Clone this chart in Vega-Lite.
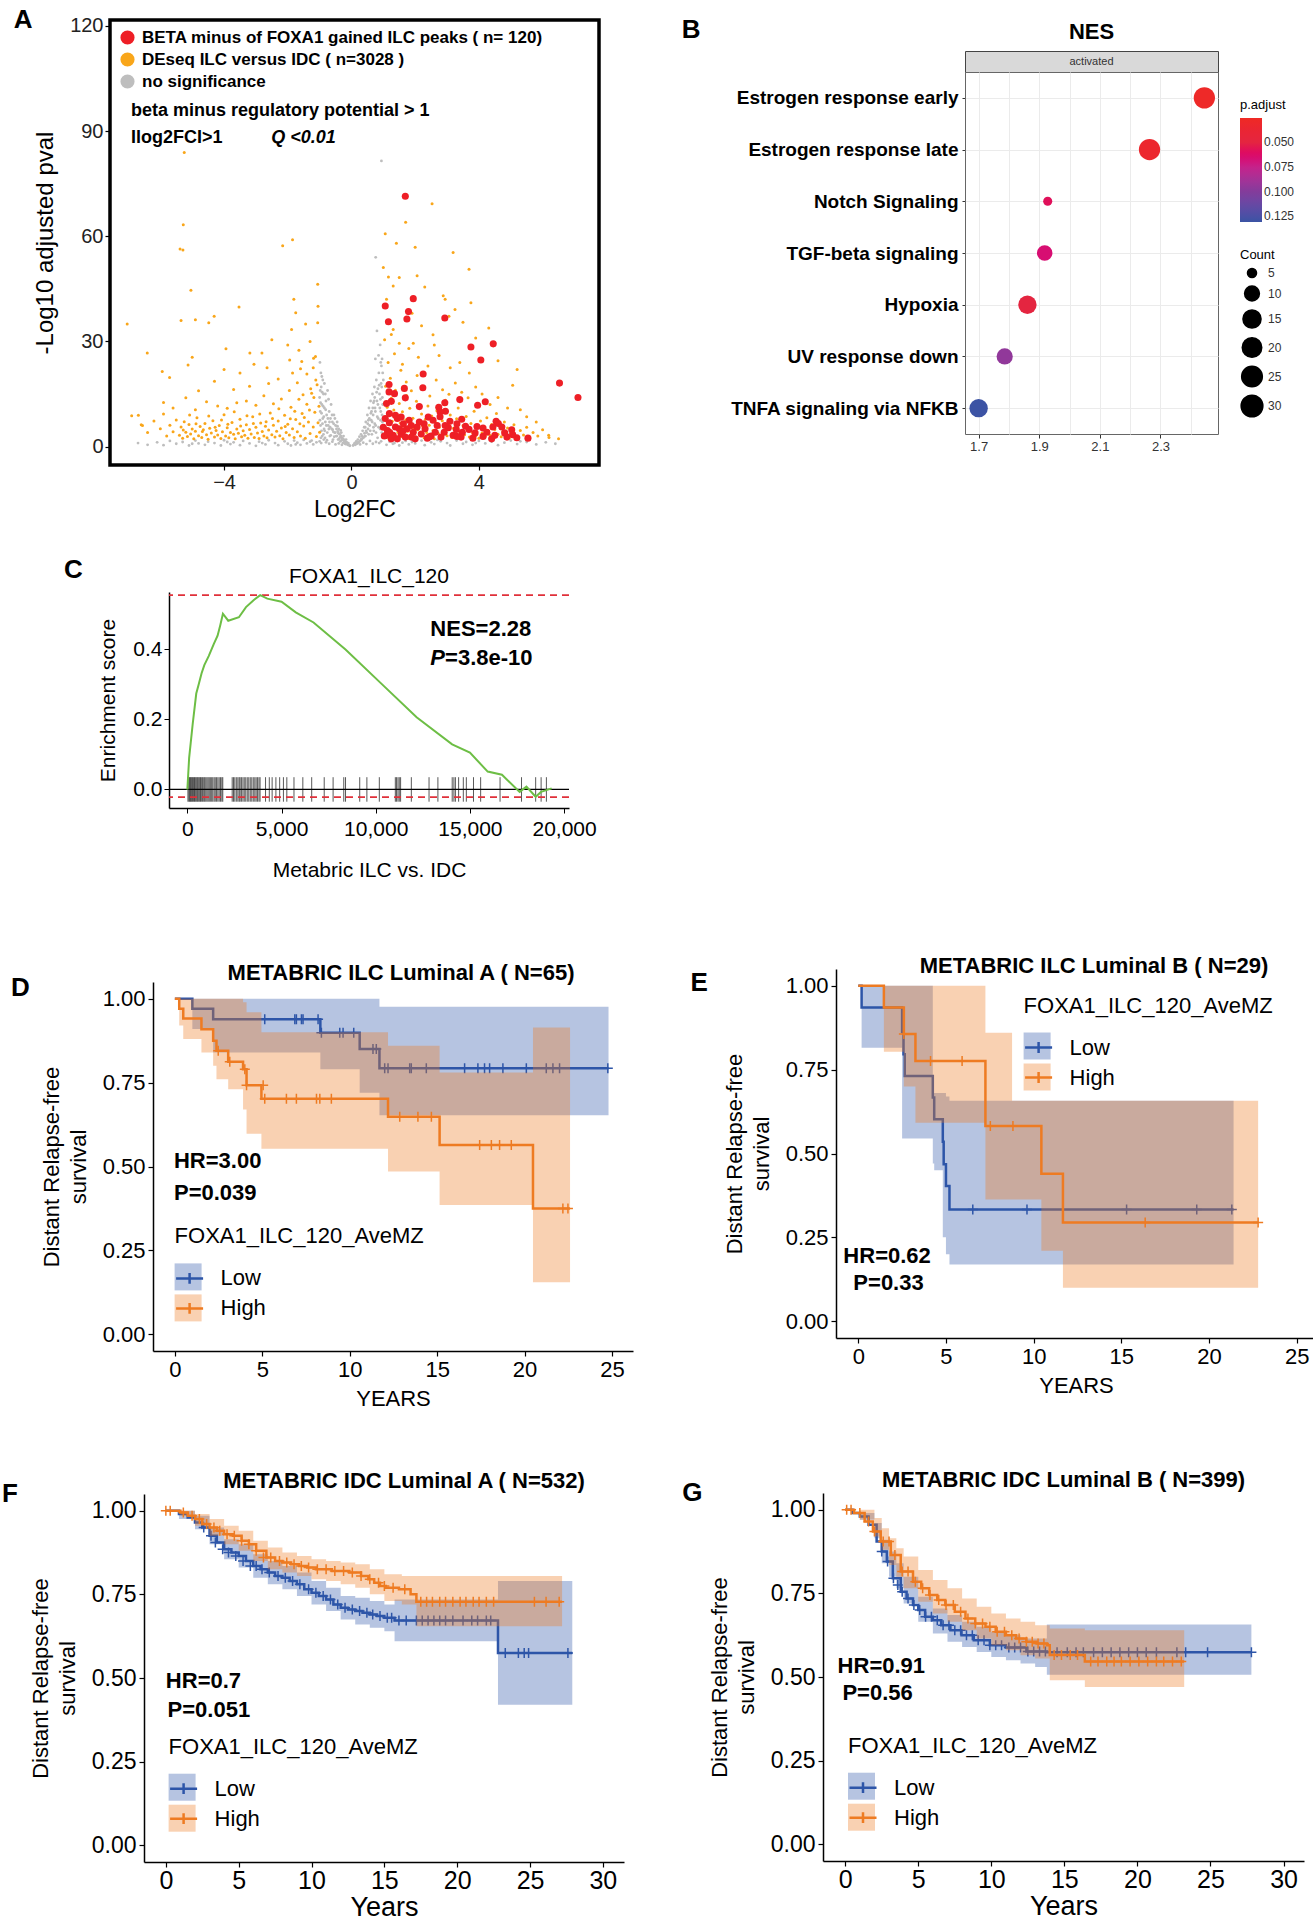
{
"$schema":"https://vega.github.io/schema/vega-lite/v6.json",
"padding":0,
"background":"white",
"config":{
 "view":{"stroke":null},
 "font":"Liberation Sans",
 "axis":{"labelColor":"#000","titleColor":"#000","domainColor":"#000","tickColor":"#000","grid":false,"titleFontWeight":"normal","labelFont":"Liberation Sans","titleFont":"Liberation Sans"},
 "legend":{"labelColor":"#000","titleColor":"#000","titleFontWeight":"normal","labelLimit":700,"titleLimit":700,"labelFont":"Liberation Sans","titleFont":"Liberation Sans"},
 "text":{"font":"Liberation Sans","color":"#000"}
},
"datasets":{
"volcano":[
{"x":-1.0,"y":14,"g":"n"},{"x":-0.98,"y":10,"g":"n"},{"x":-0.97,"y":6,"g":"n"},{"x":-0.95,"y":17,"g":"n"},{"x":-0.93,"y":12,"g":"n"},{"x":-0.92,"y":3,"g":"n"},{"x":-0.9,"y":8,"g":"n"},{"x":-0.88,"y":15,"g":"n"},{"x":-0.86,"y":5,"g":"n"},{"x":-0.85,"y":11,"g":"n"},{"x":-0.83,"y":2.5,"g":"n"},{"x":-0.82,"y":7,"g":"n"},{"x":-0.8,"y":13,"g":"n"},{"x":-0.78,"y":9,"g":"n"},{"x":-0.76,"y":4,"g":"n"},{"x":-0.75,"y":16,"g":"n"},{"x":-0.73,"y":6,"g":"n"},{"x":-0.7,"y":10,"g":"n"},{"x":-0.68,"y":3,"g":"n"},{"x":-0.66,"y":8,"g":"n"},{"x":-0.64,"y":12,"g":"n"},{"x":-0.62,"y":5,"g":"n"},{"x":-0.6,"y":7,"g":"n"},{"x":-0.58,"y":2,"g":"n"},{"x":-0.55,"y":9,"g":"n"},{"x":-0.53,"y":4,"g":"n"},{"x":-0.5,"y":6,"g":"n"},{"x":-0.48,"y":3,"g":"n"},{"x":-0.45,"y":7,"g":"n"},{"x":-0.42,"y":2,"g":"n"},{"x":-0.4,"y":5,"g":"n"},{"x":-0.37,"y":3.5,"g":"n"},{"x":-0.35,"y":1.5,"g":"n"},{"x":-0.32,"y":4,"g":"n"},{"x":-0.3,"y":2.5,"g":"n"},{"x":-0.27,"y":1,"g":"n"},{"x":-0.25,"y":3,"g":"n"},{"x":-0.22,"y":1.8,"g":"n"},{"x":-0.2,"y":0.8,"g":"n"},{"x":-0.17,"y":2,"g":"n"},{"x":-0.15,"y":1.2,"g":"n"},{"x":-0.12,"y":0.5,"g":"n"},{"x":-0.1,"y":1,"g":"n"},{"x":-0.07,"y":0.4,"g":"n"},{"x":-0.05,"y":0.2,"g":"n"},{"x":-0.9,"y":19,"g":"n"},{"x":-0.96,"y":21,"g":"n"},{"x":-0.85,"y":18,"g":"n"},{"x":-0.99,"y":24,"g":"n"},{"x":-1.0,"y":1.5,"g":"n"},{"x":-0.95,"y":1,"g":"n"},{"x":-0.8,"y":1.2,"g":"n"},{"x":-0.7,"y":0.8,"g":"n"},{"x":-0.6,"y":1.4,"g":"n"},{"x":-0.5,"y":0.6,"g":"n"},{"x":-0.4,"y":0.9,"g":"n"},{"x":-0.3,"y":0.5,"g":"n"},{"x":-0.94,"y":4.5,"g":"n"},{"x":-0.87,"y":2,"g":"n"},{"x":-0.77,"y":1.8,"g":"n"},{"x":-0.72,"y":13.5,"g":"n"},{"x":-0.67,"y":5.5,"g":"n"},{"x":-0.57,"y":4.2,"g":"n"},{"x":-0.52,"y":8,"g":"n"},{"x":-0.47,"y":5,"g":"n"},{"x":-0.43,"y":4.3,"g":"n"},{"x":-0.39,"y":2.2,"g":"n"},{"x":-0.33,"y":3,"g":"n"},{"x":-0.28,"y":2,"g":"n"},{"x":-0.23,"y":1.3,"g":"n"},{"x":-0.18,"y":0.7,"g":"n"},
{"x":-0.99,"y":7.5,"g":"n"},{"x":-0.97,"y":12.5,"g":"n"},{"x":-0.94,"y":9.5,"g":"n"},{"x":-0.91,"y":6.5,"g":"n"},{"x":-0.89,"y":11.5,"g":"n"},{"x":-0.87,"y":8.5,"g":"n"},{"x":-0.84,"y":4.5,"g":"n"},{"x":-0.81,"y":10.5,"g":"n"},{"x":-0.79,"y":6,"g":"n"},{"x":-0.74,"y":8,"g":"n"},{"x":-0.71,"y":5,"g":"n"},{"x":-0.69,"y":7,"g":"n"},{"x":-0.65,"y":3.2,"g":"n"},{"x":-0.61,"y":9,"g":"n"},{"x":-0.59,"y":4.8,"g":"n"},{"x":-0.56,"y":6.5,"g":"n"},{"x":-0.54,"y":2.8,"g":"n"},{"x":-0.51,"y":4,"g":"n"},{"x":-0.46,"y":3,"g":"n"},{"x":-0.44,"y":5.8,"g":"n"},{"x":-0.41,"y":3.8,"g":"n"},{"x":-0.36,"y":2.6,"g":"n"},{"x":-0.34,"y":4.6,"g":"n"},{"x":-0.31,"y":1.8,"g":"n"},{"x":-0.26,"y":2.2,"g":"n"},{"x":-0.21,"y":1.5,"g":"n"},{"x":-0.16,"y":1.1,"g":"n"},{"x":-0.13,"y":0.9,"g":"n"},{"x":-0.08,"y":0.5,"g":"n"},{"x":-0.98,"y":16,"g":"n"},{"x":-0.92,"y":15.5,"g":"n"},{"x":-0.96,"y":2.5,"g":"n"},{"x":-0.88,"y":3.5,"g":"n"},{"x":-0.82,"y":15,"g":"n"},{"x":-0.93,"y":20,"g":"n"},
{"x":0.05,"y":0.3,"g":"n"},{"x":0.08,"y":0.6,"g":"n"},{"x":0.1,"y":1,"g":"n"},{"x":0.12,"y":0.5,"g":"n"},{"x":0.15,"y":1.5,"g":"n"},{"x":0.18,"y":0.9,"g":"n"},{"x":0.2,"y":2,"g":"n"},{"x":0.22,"y":1.2,"g":"n"},{"x":0.25,"y":2.8,"g":"n"},{"x":0.28,"y":1.7,"g":"n"},{"x":0.3,"y":3.5,"g":"n"},{"x":0.32,"y":2,"g":"n"},{"x":0.35,"y":4.5,"g":"n"},{"x":0.38,"y":2.6,"g":"n"},{"x":0.4,"y":5.5,"g":"n"},{"x":0.42,"y":3,"g":"n"},{"x":0.45,"y":7,"g":"n"},{"x":0.48,"y":4,"g":"n"},{"x":0.5,"y":9,"g":"n"},{"x":0.52,"y":5,"g":"n"},{"x":0.55,"y":11,"g":"n"},{"x":0.57,"y":6,"g":"n"},{"x":0.6,"y":13,"g":"n"},{"x":0.62,"y":7.5,"g":"n"},{"x":0.64,"y":3.5,"g":"n"},{"x":0.66,"y":15,"g":"n"},{"x":0.68,"y":9,"g":"n"},{"x":0.7,"y":4.5,"g":"n"},{"x":0.72,"y":17,"g":"n"},{"x":0.74,"y":11,"g":"n"},{"x":0.76,"y":6,"g":"n"},{"x":0.78,"y":19,"g":"n"},{"x":0.8,"y":13,"g":"n"},{"x":0.82,"y":2.5,"g":"n"},{"x":0.84,"y":8,"g":"n"},{"x":0.86,"y":21,"g":"n"},{"x":0.88,"y":15,"g":"n"},{"x":0.9,"y":5,"g":"n"},{"x":0.92,"y":10,"g":"n"},{"x":0.94,"y":23,"g":"n"},{"x":0.95,"y":17,"g":"n"},{"x":0.97,"y":7,"g":"n"},{"x":0.98,"y":12,"g":"n"},{"x":1.0,"y":19,"g":"n"},{"x":0.99,"y":3,"g":"n"},{"x":0.93,"y":1.5,"g":"n"},{"x":0.87,"y":1,"g":"n"},{"x":0.77,"y":1.3,"g":"n"},{"x":0.67,"y":0.8,"g":"n"},{"x":0.58,"y":1.6,"g":"n"},{"x":0.47,"y":0.7,"g":"n"},{"x":0.37,"y":1.1,"g":"n"},{"x":0.27,"y":0.6,"g":"n"},{"x":0.85,"y":26,"g":"n"},{"x":0.9,"y":29,"g":"n"},{"x":0.75,"y":25,"g":"n"},{"x":0.94,"y":81.5,"g":"n"},{"x":0.76,"y":54,"g":"n"},{"x":0.8,"y":33,"g":"n"},{"x":0.63,"y":10,"g":"n"},{"x":0.69,"y":12.5,"g":"n"},{"x":0.73,"y":14,"g":"n"},{"x":0.53,"y":7.5,"g":"n"},{"x":0.43,"y":5.5,"g":"n"},{"x":0.33,"y":3,"g":"n"},{"x":0.83,"y":16.5,"g":"n"},{"x":0.91,"y":13.5,"g":"n"},{"x":0.96,"y":9,"g":"n"},
{"x":0.99,"y":8,"g":"n"},{"x":0.97,"y":14,"g":"n"},{"x":0.95,"y":4,"g":"n"},{"x":0.93,"y":18,"g":"n"},{"x":0.91,"y":7.5,"g":"n"},{"x":0.89,"y":11,"g":"n"},{"x":0.87,"y":17.5,"g":"n"},{"x":0.85,"y":5.5,"g":"n"},{"x":0.83,"y":12,"g":"n"},{"x":0.81,"y":8.5,"g":"n"},{"x":0.79,"y":15.5,"g":"n"},{"x":0.77,"y":4,"g":"n"},{"x":0.75,"y":10,"g":"n"},{"x":0.73,"y":6.5,"g":"n"},{"x":0.71,"y":13,"g":"n"},{"x":0.69,"y":5.5,"g":"n"},{"x":0.67,"y":11,"g":"n"},{"x":0.65,"y":7,"g":"n"},{"x":0.61,"y":9.5,"g":"n"},{"x":0.59,"y":4.5,"g":"n"},{"x":0.56,"y":8,"g":"n"},{"x":0.54,"y":3.5,"g":"n"},{"x":0.51,"y":6.5,"g":"n"},{"x":0.46,"y":4.5,"g":"n"},{"x":0.44,"y":3,"g":"n"},{"x":0.41,"y":3.8,"g":"n"},{"x":0.36,"y":2.5,"g":"n"},{"x":0.31,"y":2.2,"g":"n"},{"x":0.26,"y":1.5,"g":"n"},{"x":0.21,"y":1.2,"g":"n"},{"x":0.16,"y":0.8,"g":"n"},{"x":0.13,"y":1,"g":"n"},{"x":0.98,"y":21,"g":"n"},{"x":0.96,"y":25,"g":"n"},{"x":0.92,"y":24,"g":"n"},
{"x":-6.4,"y":0.5,"g":"n"},{"x":-6.1,"y":1.2,"g":"n"},{"x":-5.9,"y":0.4,"g":"n"},{"x":-5.7,"y":1.6,"g":"n"},{"x":-5.5,"y":0.8,"g":"n"},{"x":-5.3,"y":1.3,"g":"n"},{"x":-5.1,"y":0.3,"g":"n"},{"x":-4.9,"y":1.7,"g":"n"},{"x":-4.8,"y":0.9,"g":"n"},{"x":-4.6,"y":0.5,"g":"n"},{"x":-4.5,"y":1.4,"g":"n"},{"x":-4.3,"y":1.0,"g":"n"},{"x":-4.1,"y":0.3,"g":"n"},{"x":-4.0,"y":1.8,"g":"n"},{"x":-3.8,"y":0.7,"g":"n"},{"x":-3.7,"y":1.2,"g":"n"},{"x":-3.5,"y":0.4,"g":"n"},{"x":-3.4,"y":1.6,"g":"n"},{"x":-3.2,"y":0.9,"g":"n"},{"x":-3.0,"y":0.2,"g":"n"},{"x":-2.9,"y":1.4,"g":"n"},{"x":-2.7,"y":0.6,"g":"n"},{"x":-2.6,"y":1.8,"g":"n"},{"x":-2.4,"y":1.0,"g":"n"},{"x":-2.3,"y":0.4,"g":"n"},{"x":-2.1,"y":1.5,"g":"n"},{"x":-2.0,"y":0.8,"g":"n"},{"x":-1.9,"y":0.3,"g":"n"},{"x":-1.8,"y":1.7,"g":"n"},{"x":-1.7,"y":1.1,"g":"n"},{"x":-1.6,"y":0.5,"g":"n"},{"x":-1.5,"y":1.9,"g":"n"},{"x":-1.4,"y":0.9,"g":"n"},{"x":-1.3,"y":1.4,"g":"n"},{"x":-1.2,"y":0.6,"g":"n"},{"x":-1.1,"y":1.2,"g":"n"},{"x":-6.7,"y":1.0,"g":"n"},{"x":-5.0,"y":0.8,"g":"n"},{"x":-3.9,"y":1.3,"g":"n"},{"x":-2.8,"y":1.0,"g":"n"},{"x":-1.75,"y":0.6,"g":"n"},{"x":-1.25,"y":1.7,"g":"n"},
{"x":1.1,"y":0.5,"g":"n"},{"x":1.2,"y":1.4,"g":"n"},{"x":1.3,"y":0.8,"g":"n"},{"x":1.4,"y":1.8,"g":"n"},{"x":1.5,"y":0.3,"g":"n"},{"x":1.6,"y":1.1,"g":"n"},{"x":1.7,"y":1.6,"g":"n"},{"x":1.8,"y":0.6,"g":"n"},{"x":1.9,"y":1.3,"g":"n"},{"x":2.0,"y":0.9,"g":"n"},{"x":2.2,"y":1.7,"g":"n"},{"x":2.3,"y":0.4,"g":"n"},{"x":2.5,"y":1.2,"g":"n"},{"x":2.6,"y":0.7,"g":"n"},{"x":2.8,"y":1.5,"g":"n"},{"x":3.0,"y":1.0,"g":"n"},{"x":3.1,"y":0.3,"g":"n"},{"x":3.3,"y":1.7,"g":"n"},{"x":3.5,"y":0.8,"g":"n"},{"x":3.6,"y":1.3,"g":"n"},{"x":3.8,"y":0.5,"g":"n"},{"x":4.0,"y":1.6,"g":"n"},{"x":4.2,"y":0.9,"g":"n"},{"x":4.4,"y":1.4,"g":"n"},{"x":4.6,"y":0.4,"g":"n"},{"x":4.8,"y":1.1,"g":"n"},{"x":5.0,"y":1.7,"g":"n"},{"x":5.2,"y":0.7,"g":"n"},{"x":5.5,"y":1.3,"g":"n"},{"x":5.8,"y":0.6,"g":"n"},{"x":6.1,"y":1.2,"g":"n"},{"x":6.4,"y":0.8,"g":"n"},{"x":1.35,"y":1.0,"g":"n"},{"x":2.7,"y":1.9,"g":"n"},{"x":3.9,"y":1.0,"g":"n"},{"x":5.3,"y":1.5,"g":"n"},
{"x":-5.4,"y":3.2,"g":"o"},{"x":-5.35,"y":5.6,"g":"o"},{"x":-5.3,"y":2.4,"g":"o"},{"x":-5.25,"y":7.1,"g":"o"},{"x":-5.2,"y":4.1,"g":"o"},{"x":-5.15,"y":2.9,"g":"o"},{"x":-5.1,"y":6.3,"g":"o"},{"x":-5.05,"y":3.6,"g":"o"},{"x":-5.0,"y":5.0,"g":"o"},{"x":-4.95,"y":2.2,"g":"o"},{"x":-4.9,"y":4.4,"g":"o"},{"x":-4.85,"y":8.2,"g":"o"},{"x":-4.8,"y":3.1,"g":"o"},{"x":-4.75,"y":5.7,"g":"o"},{"x":-4.7,"y":2.6,"g":"o"},{"x":-4.65,"y":4.8,"g":"o"},{"x":-4.6,"y":6.6,"g":"o"},{"x":-4.55,"y":3.4,"g":"o"},{"x":-4.5,"y":2.1,"g":"o"},{"x":-4.45,"y":5.2,"g":"o"},{"x":-4.4,"y":3.9,"g":"o"},{"x":-4.35,"y":7.4,"g":"o"},{"x":-4.3,"y":2.7,"g":"o"},{"x":-4.25,"y":4.6,"g":"o"},{"x":-4.2,"y":3.3,"g":"o"},{"x":-4.15,"y":6.0,"g":"o"},{"x":-4.1,"y":2.3,"g":"o"},{"x":-4.05,"y":4.2,"g":"o"},{"x":-4.0,"y":9.1,"g":"o"},{"x":-3.95,"y":3.0,"g":"o"},{"x":-3.9,"y":5.4,"g":"o"},{"x":-3.85,"y":2.5,"g":"o"},{"x":-3.8,"y":4.0,"g":"o"},{"x":-3.75,"y":6.9,"g":"o"},{"x":-3.7,"y":3.5,"g":"o"},{"x":-3.65,"y":2.2,"g":"o"},{"x":-3.6,"y":5.0,"g":"o"},{"x":-3.55,"y":3.8,"g":"o"},{"x":-3.5,"y":7.8,"g":"o"},{"x":-3.45,"y":2.8,"g":"o"},{"x":-3.4,"y":4.5,"g":"o"},{"x":-3.35,"y":3.2,"g":"o"},{"x":-3.3,"y":6.2,"g":"o"},{"x":-3.25,"y":2.4,"g":"o"},{"x":-3.2,"y":4.9,"g":"o"},{"x":-3.15,"y":3.6,"g":"o"},{"x":-3.1,"y":8.5,"g":"o"},{"x":-3.05,"y":2.6,"g":"o"},{"x":-3.0,"y":5.5,"g":"o"},{"x":-2.95,"y":3.9,"g":"o"},{"x":-2.9,"y":2.3,"g":"o"},{"x":-2.85,"y":6.7,"g":"o"},{"x":-2.8,"y":4.3,"g":"o"},{"x":-2.75,"y":3.0,"g":"o"},{"x":-2.7,"y":5.8,"g":"o"},{"x":-2.65,"y":2.5,"g":"o"},{"x":-2.6,"y":4.7,"g":"o"},{"x":-2.55,"y":9.6,"g":"o"},{"x":-2.5,"y":3.4,"g":"o"},{"x":-2.45,"y":6.1,"g":"o"},{"x":-2.4,"y":2.7,"g":"o"},{"x":-2.35,"y":4.4,"g":"o"},{"x":-2.3,"y":7.3,"g":"o"},{"x":-2.25,"y":3.1,"g":"o"},{"x":-2.2,"y":5.3,"g":"o"},{"x":-2.15,"y":2.2,"g":"o"},{"x":-2.1,"y":8.9,"g":"o"},{"x":-2.05,"y":4.0,"g":"o"},{"x":-2.0,"y":6.4,"g":"o"},{"x":-1.95,"y":3.3,"g":"o"},{"x":-1.9,"y":11.2,"g":"o"},{"x":-1.85,"y":5.1,"g":"o"},{"x":-1.8,"y":2.6,"g":"o"},{"x":-1.75,"y":7.7,"g":"o"},{"x":-1.7,"y":4.2,"g":"o"},{"x":-1.65,"y":13.5,"g":"o"},{"x":-1.6,"y":3.0,"g":"o"},{"x":-1.55,"y":9.4,"g":"o"},{"x":-1.5,"y":5.9,"g":"o"},{"x":-1.45,"y":2.4,"g":"o"},{"x":-1.4,"y":12.1,"g":"o"},{"x":-1.35,"y":7.0,"g":"o"},{"x":-1.3,"y":3.7,"g":"o"},{"x":-1.25,"y":15.2,"g":"o"},{"x":-1.2,"y":5.6,"g":"o"},{"x":-1.15,"y":9.8,"g":"o"},{"x":-1.1,"y":2.9,"g":"o"},{"x":-1.05,"y":6.8,"g":"o"},{"x":-1.02,"y":11.5,"g":"o"},{"x":-1.0,"y":4.1,"g":"o"},{"x":-1.08,"y":17.6,"g":"o"},{"x":-1.18,"y":14.0,"g":"o"},{"x":-1.32,"y":10.4,"g":"o"},{"x":-1.48,"y":8.3,"g":"o"},{"x":-1.62,"y":6.5,"g":"o"},{"x":-1.78,"y":10.1,"g":"o"},{"x":-1.92,"y":7.9,"g":"o"},{"x":-2.08,"y":5.7,"g":"o"},{"x":-2.28,"y":10.8,"g":"o"},{"x":-2.48,"y":8.0,"g":"o"},{"x":-2.68,"y":7.1,"g":"o"},{"x":-2.88,"y":9.3,"g":"o"},{"x":-3.08,"y":6.6,"g":"o"},{"x":-3.28,"y":8.8,"g":"o"},{"x":-3.48,"y":5.9,"g":"o"},{"x":-3.68,"y":9.9,"g":"o"},{"x":-3.88,"y":6.4,"g":"o"},{"x":-4.08,"y":7.6,"g":"o"},{"x":-4.28,"y":5.5,"g":"o"},{"x":-4.48,"y":8.7,"g":"o"},{"x":-4.68,"y":4.3,"g":"o"},{"x":-4.88,"y":6.5,"g":"o"},{"x":-5.08,"y":9.0,"g":"o"},{"x":-5.28,"y":4.7,"g":"o"},{"x":-5.5,"y":7.6,"g":"o"},{"x":-5.6,"y":4.2,"g":"o"},{"x":-5.7,"y":6.1,"g":"o"},{"x":-5.8,"y":3.0,"g":"o"},{"x":-5.9,"y":9.3,"g":"o"},{"x":-6.0,"y":5.1,"g":"o"},{"x":-6.2,"y":7.3,"g":"o"},{"x":-6.4,"y":4.0,"g":"o"},{"x":-6.6,"y":6.2,"g":"o"},{"x":-6.9,"y":8.8,"g":"o"},{"x":-1.12,"y":19.0,"g":"o"},{"x":-1.28,"y":16.5,"g":"o"},{"x":-1.52,"y":14.8,"g":"o"},{"x":-1.7,"y":18.2,"g":"o"},{"x":-1.95,"y":16.0,"g":"o"},{"x":-2.2,"y":13.6,"g":"o"},{"x":-2.45,"y":12.2,"g":"o"},{"x":-2.75,"y":14.5,"g":"o"},{"x":-3.0,"y":11.8,"g":"o"},{"x":-3.3,"y":13.0,"g":"o"},{"x":-3.6,"y":12.5,"g":"o"},{"x":-3.9,"y":10.9,"g":"o"},{"x":-4.2,"y":11.6,"g":"o"},{"x":-4.55,"y":12.8,"g":"o"},{"x":-4.9,"y":10.5,"g":"o"},{"x":-5.2,"y":13.9,"g":"o"},{"x":-5.6,"y":11.0,"g":"o"},{"x":-1.4,"y":20.7,"g":"o"},{"x":-1.6,"y":22.2,"g":"o"},{"x":-1.85,"y":21.0,"g":"o"},{"x":-2.3,"y":19.3,"g":"o"},{"x":-2.6,"y":18.0,"g":"o"},{"x":-3.2,"y":17.2,"g":"o"},{"x":-3.7,"y":16.3,"g":"o"},{"x":-4.3,"y":18.6,"g":"o"},{"x":-4.8,"y":15.9,"g":"o"},{"x":-5.9,"y":12.6,"g":"o"},
{"x":-7.04,"y":35,"g":"o"},{"x":-5.25,"y":83.9,"g":"o"},{"x":-5.28,"y":63.3,"g":"o"},{"x":-5.38,"y":56.4,"g":"o"},{"x":-5.29,"y":56.1,"g":"o"},{"x":-5.04,"y":44.6,"g":"o"},{"x":-5.35,"y":36,"g":"o"},{"x":-4.9,"y":36.2,"g":"o"},{"x":-4.48,"y":35.3,"g":"o"},{"x":-4.31,"y":37.2,"g":"o"},{"x":-3.53,"y":39.8,"g":"o"},{"x":-2.16,"y":57.3,"g":"o"},{"x":-1.85,"y":59,"g":"o"},{"x":-1.06,"y":46.3,"g":"o"},{"x":-1.81,"y":42,"g":"o"},{"x":-1.75,"y":38.2,"g":"o"},{"x":-1.88,"y":33.4,"g":"o"},{"x":-1.44,"y":35,"g":"o"},{"x":-1.06,"y":35.3,"g":"o"},{"x":-6.41,"y":26.7,"g":"o"},{"x":-5.94,"y":21.4,"g":"o"},{"x":-5.71,"y":19.7,"g":"o"},{"x":-5,"y":25.5,"g":"o"},{"x":-5.13,"y":23.3,"g":"o"},{"x":-3.94,"y":27.9,"g":"o"},{"x":-3.19,"y":26.7,"g":"o"},{"x":-2.81,"y":26.7,"g":"o"},{"x":-3.06,"y":23.5,"g":"o"},{"x":-1.94,"y":24.7,"g":"o"},{"x":-1.56,"y":24.3,"g":"o"},{"x":-1.19,"y":25.2,"g":"o"},{"x":-1.13,"y":25.7,"g":"o"},{"x":-6.69,"y":8.9,"g":"o"},{"x":-6.56,"y":6,"g":"o"},{"x":-2.5,"y":30.5,"g":"o"},{"x":-4.0,"y":22.0,"g":"o"},{"x":-2.0,"y":29.0,"g":"o"},{"x":-1.3,"y":30.0,"g":"o"},{"x":-1.65,"y":27.5,"g":"o"},{"x":-3.5,"y":21.0,"g":"o"},{"x":-1.05,"y":40.0,"g":"o"},{"x":-1.2,"y":22.5,"g":"o"},{"x":-2.65,"y":22.5,"g":"o"},
{"x":1.02,"y":2.6,"g":"o"},{"x":1.05,"y":5.1,"g":"o"},{"x":1.08,"y":8.4,"g":"o"},{"x":1.1,"y":3.7,"g":"o"},{"x":1.12,"y":11.2,"g":"o"},{"x":1.15,"y":6.3,"g":"o"},{"x":1.18,"y":2.2,"g":"o"},{"x":1.2,"y":9.5,"g":"o"},{"x":1.23,"y":4.5,"g":"o"},{"x":1.25,"y":13.8,"g":"o"},{"x":1.28,"y":7.2,"g":"o"},{"x":1.3,"y":3.1,"g":"o"},{"x":1.33,"y":10.4,"g":"o"},{"x":1.36,"y":5.6,"g":"o"},{"x":1.4,"y":2.4,"g":"o"},{"x":1.43,"y":8.8,"g":"o"},{"x":1.46,"y":4.1,"g":"o"},{"x":1.5,"y":12.3,"g":"o"},{"x":1.53,"y":6.7,"g":"o"},{"x":1.56,"y":2.9,"g":"o"},{"x":1.6,"y":9.9,"g":"o"},{"x":1.63,"y":5.0,"g":"o"},{"x":1.66,"y":3.4,"g":"o"},{"x":1.7,"y":7.6,"g":"o"},{"x":1.73,"y":14.6,"g":"o"},{"x":1.76,"y":4.4,"g":"o"},{"x":1.8,"y":2.3,"g":"o"},{"x":1.83,"y":10.9,"g":"o"},{"x":1.86,"y":6.0,"g":"o"},{"x":1.9,"y":3.6,"g":"o"},{"x":1.93,"y":8.1,"g":"o"},{"x":1.96,"y":5.3,"g":"o"},{"x":2.0,"y":2.7,"g":"o"},{"x":2.04,"y":12.9,"g":"o"},{"x":2.08,"y":4.8,"g":"o"},{"x":2.12,"y":7.0,"g":"o"},{"x":2.16,"y":3.2,"g":"o"},{"x":2.2,"y":9.3,"g":"o"},{"x":2.24,"y":5.8,"g":"o"},{"x":2.28,"y":2.5,"g":"o"},{"x":2.32,"y":7.8,"g":"o"},{"x":2.36,"y":4.0,"g":"o"},{"x":2.4,"y":11.6,"g":"o"},{"x":2.44,"y":6.1,"g":"o"},{"x":2.48,"y":3.0,"g":"o"},{"x":2.52,"y":8.7,"g":"o"},{"x":2.56,"y":4.6,"g":"o"},{"x":2.6,"y":2.2,"g":"o"},{"x":2.64,"y":6.9,"g":"o"},{"x":2.68,"y":10.2,"g":"o"},{"x":2.72,"y":3.8,"g":"o"},{"x":2.76,"y":5.5,"g":"o"},{"x":2.8,"y":2.8,"g":"o"},{"x":2.85,"y":7.4,"g":"o"},{"x":2.9,"y":4.3,"g":"o"},{"x":2.95,"y":13.2,"g":"o"},{"x":3.0,"y":3.1,"g":"o"},{"x":3.05,"y":6.4,"g":"o"},{"x":3.1,"y":9.0,"g":"o"},{"x":3.15,"y":2.6,"g":"o"},{"x":3.2,"y":5.2,"g":"o"},{"x":3.25,"y":3.7,"g":"o"},{"x":3.3,"y":7.9,"g":"o"},{"x":3.35,"y":11.0,"g":"o"},{"x":3.4,"y":4.2,"g":"o"},{"x":3.45,"y":2.3,"g":"o"},{"x":3.5,"y":6.0,"g":"o"},{"x":3.55,"y":3.4,"g":"o"},{"x":3.6,"y":8.6,"g":"o"},{"x":3.65,"y":5.0,"g":"o"},{"x":3.7,"y":2.7,"g":"o"},{"x":3.75,"y":6.6,"g":"o"},{"x":3.8,"y":4.0,"g":"o"},{"x":3.85,"y":10.1,"g":"o"},{"x":3.9,"y":3.0,"g":"o"},{"x":3.95,"y":5.6,"g":"o"},{"x":4.0,"y":2.4,"g":"o"},{"x":4.05,"y":7.3,"g":"o"},{"x":4.1,"y":3.9,"g":"o"},{"x":4.15,"y":5.4,"g":"o"},{"x":4.2,"y":2.9,"g":"o"},{"x":4.25,"y":8.2,"g":"o"},{"x":4.3,"y":4.5,"g":"o"},{"x":4.35,"y":3.2,"g":"o"},{"x":4.4,"y":6.3,"g":"o"},{"x":4.45,"y":2.5,"g":"o"},{"x":4.5,"y":4.9,"g":"o"},{"x":4.55,"y":9.4,"g":"o"},{"x":4.6,"y":3.5,"g":"o"},{"x":4.65,"y":5.9,"g":"o"},{"x":4.7,"y":2.8,"g":"o"},{"x":4.75,"y":4.2,"g":"o"},{"x":4.8,"y":7.0,"g":"o"},{"x":4.85,"y":3.1,"g":"o"},{"x":4.9,"y":5.3,"g":"o"},{"x":4.95,"y":2.4,"g":"o"},{"x":5.0,"y":3.8,"g":"o"},{"x":5.1,"y":6.2,"g":"o"},{"x":5.2,"y":2.9,"g":"o"},{"x":5.3,"y":4.6,"g":"o"},{"x":5.4,"y":3.3,"g":"o"},{"x":5.5,"y":5.5,"g":"o"},{"x":5.6,"y":2.5,"g":"o"},{"x":5.7,"y":4.0,"g":"o"},{"x":5.85,"y":3.0,"g":"o"},{"x":6.0,"y":4.8,"g":"o"},{"x":6.2,"y":2.6,"g":"o"},{"x":6.5,"y":2.2,"g":"o"},{"x":6.19,"y":3.2,"g":"o"},{"x":1.07,"y":17.2,"g":"o"},{"x":1.22,"y":19.5,"g":"o"},{"x":1.38,"y":16.1,"g":"o"},{"x":1.55,"y":21.8,"g":"o"},{"x":1.72,"y":18.4,"g":"o"},{"x":1.88,"y":15.9,"g":"o"},{"x":2.06,"y":20.3,"g":"o"},{"x":2.26,"y":17.0,"g":"o"},{"x":2.46,"y":14.4,"g":"o"},{"x":2.66,"y":19.0,"g":"o"},{"x":2.86,"y":16.2,"g":"o"},{"x":3.06,"y":14.9,"g":"o"},{"x":3.26,"y":18.1,"g":"o"},{"x":3.46,"y":15.5,"g":"o"},{"x":3.66,"y":13.9,"g":"o"},{"x":3.9,"y":17.0,"g":"o"},{"x":4.1,"y":15.0,"g":"o"},{"x":4.35,"y":12.0,"g":"o"},{"x":4.6,"y":14.0,"g":"o"},{"x":4.9,"y":11.0,"g":"o"},{"x":5.06,"y":17.5,"g":"o"},{"x":5.3,"y":10.5,"g":"o"},{"x":5.5,"y":8.5,"g":"o"},{"x":5.8,"y":7.0,"g":"o"},{"x":1.15,"y":24.0,"g":"o"},{"x":1.35,"y":26.5,"g":"o"},{"x":1.6,"y":23.5,"g":"o"},{"x":1.8,"y":28.0,"g":"o"},{"x":2.1,"y":25.5,"g":"o"},{"x":2.4,"y":23.0,"g":"o"},{"x":2.75,"y":26.0,"g":"o"},{"x":3.1,"y":22.5,"g":"o"},{"x":3.4,"y":24.0,"g":"o"},{"x":3.7,"y":21.0,"g":"o"},{"x":1.04,"y":30.5,"g":"o"},{"x":1.25,"y":32.0,"g":"o"},{"x":1.5,"y":29.5,"g":"o"},{"x":2.2,"y":34.5,"g":"o"},{"x":2.6,"y":29.0,"g":"o"},{"x":3.9,"y":31.0,"g":"o"},
{"x":1.06,"y":60.7,"g":"o"},{"x":1.41,"y":58,"g":"o"},{"x":2.0,"y":56.9,"g":"o"},{"x":2.53,"y":69.3,"g":"o"},{"x":3.19,"y":55.4,"g":"o"},{"x":3.69,"y":50.6,"g":"o"},{"x":1.0,"y":51.1,"g":"o"},{"x":1.16,"y":48.4,"g":"o"},{"x":1.5,"y":48.2,"g":"o"},{"x":2.06,"y":48.7,"g":"o"},{"x":1.31,"y":45.8,"g":"o"},{"x":2.88,"y":43,"g":"o"},{"x":2.94,"y":42,"g":"o"},{"x":3.75,"y":41,"g":"o"},{"x":3.25,"y":39.1,"g":"o"},{"x":3.06,"y":37.2,"g":"o"},{"x":1.31,"y":33.4,"g":"o"},{"x":1.94,"y":29.5,"g":"o"},{"x":2.56,"y":31.9,"g":"o"},{"x":4.31,"y":33.8,"g":"o"},{"x":1.7,"y":64.0,"g":"o"},{"x":2.3,"y":45.5,"g":"o"},{"x":1.1,"y":42.0,"g":"o"},{"x":3.5,"y":35.5,"g":"o"},{"x":4.6,"y":24.5,"g":"o"},{"x":5.2,"y":22.0,"g":"o"},{"x":1.9,"y":38.0,"g":"o"},
{"x":1.69,"y":71.4,"g":"r"},{"x":1.94,"y":42.2,"g":"r"},{"x":1.06,"y":40.1,"g":"r"},{"x":1.79,"y":38.5,"g":"r"},{"x":1.74,"y":36.4,"g":"r"},{"x":1.16,"y":35.6,"g":"r"},{"x":2.93,"y":36.7,"g":"r"},{"x":3.75,"y":28.4,"g":"r"},{"x":4.45,"y":29.3,"g":"r"},{"x":4.06,"y":24.7,"g":"r"},{"x":6.53,"y":18.1,"g":"r"},{"x":7.11,"y":14.0,"g":"r"},{"x":2.25,"y":20.7,"g":"r"},{"x":1.18,"y":17.7,"g":"r"},{"x":1.66,"y":16.6,"g":"r"},{"x":2.24,"y":16.8,"g":"r"},{"x":1.18,"y":15.6,"g":"r"},{"x":1.35,"y":15.1,"g":"r"},{"x":1.69,"y":13.9,"g":"r"},{"x":1.25,"y":12.9,"g":"r"},{"x":1.1,"y":12.3,"g":"r"},{"x":2.13,"y":11.4,"g":"r"},{"x":2.93,"y":12.5,"g":"r"},{"x":2.95,"y":10.1,"g":"r"},{"x":3.4,"y":13.4,"g":"r"},{"x":4.2,"y":12.8,"g":"r"},{"x":3.96,"y":11.8,"g":"r"},{"x":2.74,"y":11.2,"g":"r"},{"x":2.78,"y":9.9,"g":"r"},{"x":2.41,"y":8.4,"g":"r"},{"x":2.78,"y":8.5,"g":"r"},{"x":1.06,"y":8.0,"g":"r"},{"x":3.46,"y":7.8,"g":"r"},{"x":4.54,"y":7.2,"g":"r"},{"x":4.61,"y":6.6,"g":"r"},{"x":5.54,"y":2.4,"g":"r"},{"x":5.19,"y":2.5,"g":"r"},{"x":4.88,"y":2.7,"g":"r"},{"x":5.03,"y":4.8,"g":"r"},{"x":4.81,"y":3.9,"g":"r"},{"x":4.44,"y":5.6,"g":"r"},{"x":4.5,"y":3.2,"g":"r"},{"x":4.4,"y":2.2,"g":"r"},{"x":4.13,"y":5.3,"g":"r"},{"x":3.94,"y":5.7,"g":"r"},{"x":4.13,"y":2.9,"g":"r"},{"x":3.81,"y":2.4,"g":"r"},{"x":3.58,"y":5.8,"g":"r"},{"x":3.48,"y":4.1,"g":"r"},{"x":3.29,"y":4.9,"g":"r"},{"x":3.19,"y":3.2,"g":"r"},{"x":3.04,"y":5.4,"g":"r"},{"x":2.91,"y":4.1,"g":"r"},{"x":2.69,"y":6.0,"g":"r"},{"x":2.63,"y":4.1,"g":"r"},{"x":2.5,"y":3.0,"g":"r"},{"x":2.31,"y":5.1,"g":"r"},{"x":2.19,"y":3.6,"g":"r"},{"x":2.06,"y":5.6,"g":"r"},{"x":1.94,"y":4.1,"g":"r"},{"x":1.88,"y":2.7,"g":"r"},{"x":1.75,"y":5.1,"g":"r"},{"x":1.63,"y":6.5,"g":"r"},{"x":1.56,"y":3.6,"g":"r"},{"x":1.44,"y":8.0,"g":"r"},{"x":1.38,"y":5.6,"g":"r"},{"x":1.31,"y":3.2,"g":"r"},{"x":1.19,"y":6.8,"g":"r"},{"x":1.13,"y":4.6,"g":"r"},{"x":1.09,"y":3.2,"g":"r"},{"x":1.25,"y":2.2,"g":"r"},{"x":1.44,"y":2.2,"g":"r"},{"x":1.69,"y":2.7,"g":"r"},{"x":2.0,"y":2.2,"g":"r"},{"x":2.38,"y":2.4,"g":"r"},{"x":2.81,"y":2.7,"g":"r"},{"x":3.44,"y":2.7,"g":"r"},{"x":3.69,"y":4.9,"g":"r"},{"x":3.09,"y":7.2,"g":"r"},{"x":2.13,"y":7.0,"g":"r"},{"x":1.81,"y":7.5,"g":"r"},{"x":1.38,"y":8.9,"g":"r"},{"x":2.56,"y":7.5,"g":"r"},{"x":3.31,"y":6.5,"g":"r"},{"x":4.25,"y":4.1,"g":"r"},{"x":4.72,"y":5.6,"g":"r"},{"x":5.06,"y":3.4,"g":"r"},{"x":1.56,"y":8.4,"g":"r"},{"x":1.88,"y":6.0,"g":"r"},{"x":2.28,"y":6.5,"g":"r"},{"x":2.94,"y":6.0,"g":"r"},{"x":3.31,"y":2.9,"g":"r"},{"x":3.88,"y":3.9,"g":"r"},{"x":1.19,"y":9.4,"g":"r"},{"x":1.5,"y":5.1,"g":"r"},{"x":1.0,"y":5.5,"g":"r"},{"x":1.03,"y":3.0,"g":"r"},{"x":1.2,"y":4.0,"g":"r"},{"x":1.62,"y":4.5,"g":"r"},{"x":2.45,"y":2.8,"g":"r"}
],
"nes":[
{"term":"Estrogen response early","NES":2.445,"padjNeg":-0.028,"Count":28},
{"term":"Estrogen response late","NES":2.264,"padjNeg":-0.033,"Count":28},
{"term":"Notch Signaling","NES":1.928,"padjNeg":-0.058,"Count":5},
{"term":"TGF-beta signaling","NES":1.918,"padjNeg":-0.066,"Count":11},
{"term":"Hypoxia","NES":1.861,"padjNeg":-0.05,"Count":16},
{"term":"UV response down","NES":1.786,"padjNeg":-0.095,"Count":12},
{"term":"TNFA signaling via NFKB","NES":1.70,"padjNeg":-0.13,"Count":16}
],
"es":[
{"rank":0,"es":0},{"rank":94,"es":0.09},{"rank":283,"es":0.187},{"rank":472,"es":0.274},{"rank":600,"es":0.3},{"rank":755,"es":0.332},{"rank":900,"es":0.355},{"rank":1132,"es":0.381},{"rank":1400,"es":0.415},{"rank":1604,"es":0.439},{"rank":1750,"es":0.47},{"rank":1887,"es":0.502},{"rank":2170,"es":0.482},{"rank":2736,"es":0.492},{"rank":3113,"es":0.521},{"rank":3500,"es":0.54},{"rank":3868,"es":0.555},{"rank":4245,"es":0.545},{"rank":5000,"es":0.536},{"rank":5755,"es":0.506},{"rank":6698,"es":0.477},{"rank":8396,"es":0.40},{"rank":10283,"es":0.303},{"rank":12170,"es":0.206},{"rank":14057,"es":0.129},{"rank":15000,"es":0.105},{"rank":15945,"es":0.051},{"rank":16700,"es":0.042},{"rank":17640,"es":-0.007},{"rank":18000,"es":0.008},{"rank":18490,"es":-0.021},{"rank":18775,"es":-0.007},{"rank":19060,"es":-0.002},{"rank":19340,"es":0.003}
],
"hits":[
{"pos":30},{"pos":80},{"pos":120},{"pos":160},{"pos":200},{"pos":240},{"pos":280},{"pos":330},{"pos":380},{"pos":420},{"pos":470},{"pos":520},{"pos":560},{"pos":610},{"pos":660},{"pos":700},{"pos":760},{"pos":810},{"pos":870},{"pos":920},{"pos":980},{"pos":1040},{"pos":1100},{"pos":1160},{"pos":1220},{"pos":1290},{"pos":1350},{"pos":1420},{"pos":1480},{"pos":1550},{"pos":1620},{"pos":1690},{"pos":1760},{"pos":1830},{"pos":1880},
{"pos":2380},{"pos":2450},{"pos":2520},{"pos":2600},{"pos":2680},{"pos":2750},{"pos":2800},{"pos":2870},{"pos":2950},{"pos":3020},{"pos":3100},{"pos":3180},{"pos":3260},{"pos":3340},{"pos":3420},{"pos":3500},{"pos":3580},{"pos":3650},{"pos":3720},{"pos":3800},{"pos":3860},
{"pos":4150},{"pos":4350},{"pos":4500},{"pos":4700},{"pos":4900},{"pos":5100},{"pos":5280},{"pos":5660},{"pos":6130},{"pos":6600},{"pos":7265},{"pos":7737},{"pos":8303},{"pos":8396},{"pos":9150},{"pos":9530},{"pos":10190},{"pos":11040},{"pos":11100},{"pos":11180},{"pos":11250},{"pos":11320},{"pos":11890},{"pos":12830},{"pos":13300},{"pos":14060},{"pos":14150},{"pos":14230},{"pos":14400},{"pos":14650},{"pos":14810},{"pos":15190},{"pos":15570},{"pos":16600},{"pos":17740},{"pos":18490},{"pos":18780},{"pos":19060}
],
"bD":[
{"t":0,"lo":1,"hi":1,"grp":"Low"},{"t":1.0,"lo":0.91,"hi":1,"grp":"Low"},{"t":2.19,"lo":0.84,"hi":1,"grp":"Low"},{"t":8.32,"lo":0.79,"hi":1,"grp":"Low"},{"t":10.57,"lo":0.72,"hi":1,"grp":"Low"},{"t":11.7,"lo":0.653,"hi":0.976,"grp":"Low"},{"t":24.8,"lo":0.653,"hi":0.976,"grp":"Low"},
{"t":0,"lo":1,"hi":1,"grp":"High"},{"t":0.25,"lo":0.92,"hi":1,"grp":"High"},{"t":0.48,"lo":0.88,"hi":1,"grp":"High"},{"t":1.52,"lo":0.84,"hi":1,"grp":"High"},{"t":2.19,"lo":0.8,"hi":1,"grp":"High"},{"t":2.38,"lo":0.76,"hi":1,"grp":"High"},{"t":3.05,"lo":0.73,"hi":1,"grp":"High"},{"t":3.9,"lo":0.67,"hi":0.99,"grp":"High"},{"t":4.1,"lo":0.598,"hi":0.96,"grp":"High"},{"t":4.95,"lo":0.553,"hi":0.9,"grp":"High"},{"t":12.19,"lo":0.485,"hi":0.86,"grp":"High"},{"t":15.14,"lo":0.385,"hi":0.78,"grp":"High"},{"t":20.48,"lo":0.155,"hi":0.914,"grp":"High"},{"t":22.6,"lo":0.155,"hi":0.914,"grp":"High"}
],
"cD":[
{"t":0,"s":1,"Group":"Low"},{"t":1.0,"s":0.97,"Group":"Low"},{"t":2.19,"s":0.939,"Group":"Low"},{"t":8.32,"s":0.899,"Group":"Low"},{"t":10.57,"s":0.85,"Group":"Low"},{"t":11.7,"s":0.793,"Group":"Low"},{"t":24.8,"s":0.793,"Group":"Low"},
{"t":0,"s":1,"Group":"High"},{"t":0.25,"s":0.97,"Group":"High"},{"t":0.48,"s":0.941,"Group":"High"},{"t":1.52,"s":0.909,"Group":"High"},{"t":2.19,"s":0.875,"Group":"High"},{"t":2.38,"s":0.845,"Group":"High"},{"t":3.05,"s":0.812,"Group":"High"},{"t":3.9,"s":0.79,"Group":"High"},{"t":4.1,"s":0.742,"Group":"High"},{"t":4.95,"s":0.702,"Group":"High"},{"t":12.19,"s":0.648,"Group":"High"},{"t":15.14,"s":0.564,"Group":"High"},{"t":20.48,"s":0.375,"Group":"High"},{"t":22.6,"s":0.375,"Group":"High"}
],
"xD":[
{"t":5.14,"s":0.939,"Group":"Low"},{"t":6.86,"s":0.939,"Group":"Low"},{"t":6.95,"s":0.939,"Group":"Low"},{"t":7.24,"s":0.939,"Group":"Low"},{"t":7.33,"s":0.939,"Group":"Low"},{"t":8.19,"s":0.939,"Group":"Low"},{"t":8.38,"s":0.899,"Group":"Low"},{"t":9.43,"s":0.899,"Group":"Low"},{"t":9.62,"s":0.899,"Group":"Low"},{"t":10.23,"s":0.899,"Group":"Low"},{"t":11.33,"s":0.85,"Group":"Low"},{"t":11.52,"s":0.85,"Group":"Low"},{"t":12.0,"s":0.793,"Group":"Low"},{"t":12.19,"s":0.793,"Group":"Low"},{"t":13.43,"s":0.793,"Group":"Low"},{"t":13.52,"s":0.793,"Group":"Low"},{"t":14.38,"s":0.793,"Group":"Low"},{"t":16.57,"s":0.793,"Group":"Low"},{"t":17.33,"s":0.793,"Group":"Low"},{"t":17.71,"s":0.793,"Group":"Low"},{"t":18.0,"s":0.793,"Group":"Low"},{"t":18.76,"s":0.793,"Group":"Low"},{"t":20.1,"s":0.793,"Group":"Low"},{"t":21.24,"s":0.793,"Group":"Low"},{"t":21.62,"s":0.793,"Group":"Low"},{"t":22.0,"s":0.793,"Group":"Low"},{"t":24.76,"s":0.793,"Group":"Low"},
{"t":2.48,"s":0.845,"Group":"High"},{"t":3.14,"s":0.812,"Group":"High"},{"t":4.0,"s":0.79,"Group":"High"},{"t":4.1,"s":0.742,"Group":"High"},{"t":5.05,"s":0.742,"Group":"High"},{"t":5.14,"s":0.702,"Group":"High"},{"t":6.38,"s":0.702,"Group":"High"},{"t":6.95,"s":0.702,"Group":"High"},{"t":8.1,"s":0.702,"Group":"High"},{"t":8.29,"s":0.702,"Group":"High"},{"t":8.95,"s":0.702,"Group":"High"},{"t":12.86,"s":0.648,"Group":"High"},{"t":13.9,"s":0.648,"Group":"High"},{"t":14.67,"s":0.648,"Group":"High"},{"t":17.43,"s":0.564,"Group":"High"},{"t":18.1,"s":0.564,"Group":"High"},{"t":18.57,"s":0.564,"Group":"High"},{"t":19.24,"s":0.564,"Group":"High"},{"t":22.19,"s":0.375,"Group":"High"},{"t":22.48,"s":0.375,"Group":"High"}
],
"bE":[
{"t":0,"lo":1,"hi":1,"grp":"Low"},{"t":0.19,"lo":0.815,"hi":1,"grp":"Low"},{"t":2.5,"lo":0.545,"hi":1,"grp":"Low"},{"t":4.25,"lo":0.47,"hi":0.68,"grp":"Low"},{"t":4.33,"lo":0.45,"hi":0.68,"grp":"Low"},{"t":4.82,"lo":0.25,"hi":0.68,"grp":"Low"},{"t":5.0,"lo":0.2,"hi":0.67,"grp":"Low"},{"t":5.2,"lo":0.169,"hi":0.657,"grp":"Low"},{"t":21.4,"lo":0.169,"hi":0.657,"grp":"Low"},
{"t":0,"lo":1,"hi":1,"grp":"High"},{"t":1.46,"lo":0.803,"hi":1,"grp":"High"},{"t":2.6,"lo":0.7,"hi":1,"grp":"High"},{"t":3.26,"lo":0.592,"hi":1,"grp":"High"},{"t":7.25,"lo":0.363,"hi":0.86,"grp":"High"},{"t":8.77,"lo":0.363,"hi":0.657,"grp":"High"},{"t":10.44,"lo":0.21,"hi":0.657,"grp":"High"},{"t":11.67,"lo":0.1,"hi":0.657,"grp":"High"},{"t":22.8,"lo":0.1,"hi":0.657,"grp":"High"}
],
"cE":[
{"t":0,"s":1,"Group":"Low"},{"t":0.19,"s":0.935,"Group":"Low"},{"t":2.5,"s":0.862,"Group":"Low"},{"t":2.58,"s":0.796,"Group":"Low"},{"t":2.65,"s":0.731,"Group":"Low"},{"t":4.25,"s":0.667,"Group":"Low"},{"t":4.33,"s":0.602,"Group":"Low"},{"t":4.82,"s":0.535,"Group":"Low"},{"t":4.87,"s":0.468,"Group":"Low"},{"t":5.0,"s":0.403,"Group":"Low"},{"t":5.2,"s":0.333,"Group":"Low"},{"t":21.4,"s":0.333,"Group":"Low"},
{"t":0,"s":1,"Group":"High"},{"t":1.46,"s":0.935,"Group":"High"},{"t":2.6,"s":0.856,"Group":"High"},{"t":3.26,"s":0.776,"Group":"High"},{"t":7.25,"s":0.582,"Group":"High"},{"t":10.44,"s":0.44,"Group":"High"},{"t":11.67,"s":0.294,"Group":"High"},{"t":22.8,"s":0.294,"Group":"High"}
],
"xE":[
{"t":6.53,"s":0.333,"Group":"Low"},{"t":9.62,"s":0.333,"Group":"Low"},{"t":15.3,"s":0.333,"Group":"Low"},{"t":19.3,"s":0.333,"Group":"Low"},{"t":21.3,"s":0.333,"Group":"Low"},
{"t":2.6,"s":0.856,"Group":"High"},{"t":4.12,"s":0.776,"Group":"High"},{"t":5.92,"s":0.776,"Group":"High"},{"t":7.53,"s":0.582,"Group":"High"},{"t":8.82,"s":0.582,"Group":"High"},{"t":16.36,"s":0.294,"Group":"High"},{"t":22.8,"s":0.294,"Group":"High"}
],
"bF":[
{"t":0,"lo":1,"hi":1,"grp":"Low"},{"t":0.9,"lo":0.975,"hi":1,"grp":"Low"},{"t":2.0,"lo":0.945,"hi":0.985,"grp":"Low"},{"t":3.0,"lo":0.9,"hi":0.95,"grp":"Low"},{"t":4.0,"lo":0.855,"hi":0.915,"grp":"Low"},{"t":5.0,"lo":0.83,"hi":0.9,"grp":"Low"},{"t":6.0,"lo":0.8,"hi":0.87,"grp":"Low"},{"t":7.0,"lo":0.78,"hi":0.85,"grp":"Low"},{"t":8.0,"lo":0.765,"hi":0.835,"grp":"Low"},{"t":9.0,"lo":0.745,"hi":0.815,"grp":"Low"},{"t":10.0,"lo":0.72,"hi":0.79,"grp":"Low"},{"t":11.0,"lo":0.7,"hi":0.77,"grp":"Low"},{"t":12.0,"lo":0.675,"hi":0.745,"grp":"Low"},{"t":13.0,"lo":0.66,"hi":0.74,"grp":"Low"},{"t":14.0,"lo":0.65,"hi":0.73,"grp":"Low"},{"t":15.0,"lo":0.64,"hi":0.72,"grp":"Low"},{"t":15.7,"lo":0.61,"hi":0.735,"grp":"Low"},{"t":22.8,"lo":0.42,"hi":0.79,"grp":"Low"},{"t":27.9,"lo":0.42,"hi":0.79,"grp":"Low"},
{"t":0,"lo":1,"hi":1,"grp":"High"},{"t":1.0,"lo":0.985,"hi":1,"grp":"High"},{"t":2.0,"lo":0.955,"hi":0.99,"grp":"High"},{"t":3.0,"lo":0.925,"hi":0.975,"grp":"High"},{"t":4.0,"lo":0.9,"hi":0.955,"grp":"High"},{"t":5.0,"lo":0.88,"hi":0.94,"grp":"High"},{"t":6.0,"lo":0.85,"hi":0.91,"grp":"High"},{"t":7.0,"lo":0.825,"hi":0.89,"grp":"High"},{"t":8.0,"lo":0.815,"hi":0.875,"grp":"High"},{"t":9.0,"lo":0.805,"hi":0.865,"grp":"High"},{"t":10.0,"lo":0.795,"hi":0.855,"grp":"High"},{"t":11.0,"lo":0.79,"hi":0.85,"grp":"High"},{"t":12.0,"lo":0.78,"hi":0.845,"grp":"High"},{"t":13.0,"lo":0.77,"hi":0.84,"grp":"High"},{"t":14.0,"lo":0.75,"hi":0.825,"grp":"High"},{"t":15.0,"lo":0.73,"hi":0.81,"grp":"High"},{"t":16.2,"lo":0.72,"hi":0.805,"grp":"High"},{"t":17.2,"lo":0.655,"hi":0.805,"grp":"High"},{"t":27.2,"lo":0.655,"hi":0.805,"grp":"High"}
],
"cF":[
{"t":0,"s":1,"Group":"Low"},{"t":0.9,"s":0.99,"Group":"Low"},{"t":1.5,"s":0.98,"Group":"Low"},{"t":2.0,"s":0.965,"Group":"Low"},{"t":2.5,"s":0.95,"Group":"Low"},{"t":3.0,"s":0.925,"Group":"Low"},{"t":3.5,"s":0.905,"Group":"Low"},{"t":4.0,"s":0.885,"Group":"Low"},{"t":4.5,"s":0.875,"Group":"Low"},{"t":5.0,"s":0.865,"Group":"Low"},{"t":5.5,"s":0.85,"Group":"Low"},{"t":6.0,"s":0.835,"Group":"Low"},{"t":6.5,"s":0.825,"Group":"Low"},{"t":7.0,"s":0.815,"Group":"Low"},{"t":7.5,"s":0.805,"Group":"Low"},{"t":8.0,"s":0.8,"Group":"Low"},{"t":8.5,"s":0.79,"Group":"Low"},{"t":9.0,"s":0.78,"Group":"Low"},{"t":9.5,"s":0.765,"Group":"Low"},{"t":10.0,"s":0.755,"Group":"Low"},{"t":10.5,"s":0.745,"Group":"Low"},{"t":11.0,"s":0.735,"Group":"Low"},{"t":11.5,"s":0.72,"Group":"Low"},{"t":12.0,"s":0.71,"Group":"Low"},{"t":12.5,"s":0.705,"Group":"Low"},{"t":13.0,"s":0.7,"Group":"Low"},{"t":13.5,"s":0.695,"Group":"Low"},{"t":14.0,"s":0.69,"Group":"Low"},{"t":14.5,"s":0.685,"Group":"Low"},{"t":15.0,"s":0.68,"Group":"Low"},{"t":15.7,"s":0.672,"Group":"Low"},{"t":22.8,"s":0.575,"Group":"Low"},{"t":27.9,"s":0.575,"Group":"Low"},
{"t":0,"s":1,"Group":"High"},{"t":1.0,"s":0.995,"Group":"High"},{"t":1.5,"s":0.985,"Group":"High"},{"t":2.0,"s":0.975,"Group":"High"},{"t":2.5,"s":0.96,"Group":"High"},{"t":3.0,"s":0.95,"Group":"High"},{"t":3.5,"s":0.94,"Group":"High"},{"t":4.0,"s":0.93,"Group":"High"},{"t":4.6,"s":0.925,"Group":"High"},{"t":5.2,"s":0.91,"Group":"High"},{"t":5.7,"s":0.9,"Group":"High"},{"t":6.2,"s":0.88,"Group":"High"},{"t":6.9,"s":0.86,"Group":"High"},{"t":7.5,"s":0.85,"Group":"High"},{"t":8.0,"s":0.845,"Group":"High"},{"t":8.6,"s":0.84,"Group":"High"},{"t":9.15,"s":0.835,"Group":"High"},{"t":9.7,"s":0.83,"Group":"High"},{"t":10.3,"s":0.825,"Group":"High"},{"t":11.4,"s":0.82,"Group":"High"},{"t":12.6,"s":0.815,"Group":"High"},{"t":13.4,"s":0.805,"Group":"High"},{"t":13.9,"s":0.795,"Group":"High"},{"t":14.3,"s":0.785,"Group":"High"},{"t":14.7,"s":0.775,"Group":"High"},{"t":15.1,"s":0.77,"Group":"High"},{"t":16.0,"s":0.765,"Group":"High"},{"t":16.8,"s":0.75,"Group":"High"},{"t":17.2,"s":0.728,"Group":"High"},{"t":27.2,"s":0.728,"Group":"High"}
],
"xF":[
{"t":2.6,"s":0.95,"Group":"Low"},{"t":3.1,"s":0.925,"Group":"Low"},{"t":3.4,"s":0.905,"Group":"Low"},{"t":3.9,"s":0.885,"Group":"Low"},{"t":4.3,"s":0.875,"Group":"Low"},{"t":4.8,"s":0.865,"Group":"Low"},{"t":5.3,"s":0.85,"Group":"Low"},{"t":5.8,"s":0.835,"Group":"Low"},{"t":6.2,"s":0.835,"Group":"Low"},{"t":6.6,"s":0.825,"Group":"Low"},{"t":7.1,"s":0.815,"Group":"Low"},{"t":7.7,"s":0.805,"Group":"Low"},{"t":8.2,"s":0.8,"Group":"Low"},{"t":8.7,"s":0.79,"Group":"Low"},{"t":9.2,"s":0.78,"Group":"Low"},{"t":9.8,"s":0.765,"Group":"Low"},{"t":10.3,"s":0.755,"Group":"Low"},{"t":10.8,"s":0.745,"Group":"Low"},{"t":11.3,"s":0.735,"Group":"Low"},{"t":11.8,"s":0.72,"Group":"Low"},{"t":12.3,"s":0.71,"Group":"Low"},{"t":12.8,"s":0.705,"Group":"Low"},{"t":13.3,"s":0.7,"Group":"Low"},{"t":13.8,"s":0.695,"Group":"Low"},{"t":14.2,"s":0.69,"Group":"Low"},{"t":14.7,"s":0.685,"Group":"Low"},{"t":15.2,"s":0.68,"Group":"Low"},{"t":15.5,"s":0.68,"Group":"Low"},{"t":16.0,"s":0.672,"Group":"Low"},{"t":16.5,"s":0.672,"Group":"Low"},{"t":17.2,"s":0.672,"Group":"Low"},{"t":17.6,"s":0.672,"Group":"Low"},{"t":18.0,"s":0.672,"Group":"Low"},{"t":18.4,"s":0.672,"Group":"Low"},{"t":18.8,"s":0.672,"Group":"Low"},{"t":19.2,"s":0.672,"Group":"Low"},{"t":19.7,"s":0.672,"Group":"Low"},{"t":20.4,"s":0.672,"Group":"Low"},{"t":21.0,"s":0.672,"Group":"Low"},{"t":21.4,"s":0.672,"Group":"Low"},{"t":22.0,"s":0.672,"Group":"Low"},{"t":22.3,"s":0.672,"Group":"Low"},{"t":23.3,"s":0.575,"Group":"Low"},{"t":24.2,"s":0.575,"Group":"Low"},{"t":24.6,"s":0.575,"Group":"Low"},{"t":24.9,"s":0.575,"Group":"Low"},{"t":27.6,"s":0.575,"Group":"Low"},
{"t":0,"s":1,"Group":"High"},{"t":0.3,"s":1,"Group":"High"},{"t":1.2,"s":0.995,"Group":"High"},{"t":1.8,"s":0.985,"Group":"High"},{"t":2.3,"s":0.975,"Group":"High"},{"t":2.8,"s":0.96,"Group":"High"},{"t":3.3,"s":0.95,"Group":"High"},{"t":3.7,"s":0.94,"Group":"High"},{"t":4.2,"s":0.93,"Group":"High"},{"t":4.7,"s":0.925,"Group":"High"},{"t":5.2,"s":0.91,"Group":"High"},{"t":5.7,"s":0.9,"Group":"High"},{"t":6.2,"s":0.88,"Group":"High"},{"t":6.7,"s":0.86,"Group":"High"},{"t":7.2,"s":0.86,"Group":"High"},{"t":7.8,"s":0.85,"Group":"High"},{"t":8.3,"s":0.845,"Group":"High"},{"t":8.8,"s":0.84,"Group":"High"},{"t":9.3,"s":0.835,"Group":"High"},{"t":9.8,"s":0.83,"Group":"High"},{"t":10.4,"s":0.825,"Group":"High"},{"t":11.0,"s":0.825,"Group":"High"},{"t":11.6,"s":0.82,"Group":"High"},{"t":12.2,"s":0.82,"Group":"High"},{"t":12.8,"s":0.815,"Group":"High"},{"t":13.4,"s":0.805,"Group":"High"},{"t":14.0,"s":0.795,"Group":"High"},{"t":14.6,"s":0.785,"Group":"High"},{"t":15.0,"s":0.775,"Group":"High"},{"t":15.6,"s":0.77,"Group":"High"},{"t":16.4,"s":0.765,"Group":"High"},{"t":17.5,"s":0.728,"Group":"High"},{"t":17.9,"s":0.728,"Group":"High"},{"t":18.3,"s":0.728,"Group":"High"},{"t":18.8,"s":0.728,"Group":"High"},{"t":19.2,"s":0.728,"Group":"High"},{"t":19.7,"s":0.728,"Group":"High"},{"t":20.2,"s":0.728,"Group":"High"},{"t":20.6,"s":0.728,"Group":"High"},{"t":21.1,"s":0.728,"Group":"High"},{"t":21.5,"s":0.728,"Group":"High"},{"t":22.0,"s":0.728,"Group":"High"},{"t":22.5,"s":0.728,"Group":"High"},{"t":25.3,"s":0.728,"Group":"High"},{"t":26.1,"s":0.728,"Group":"High"},{"t":27.0,"s":0.728,"Group":"High"}
],
"bG":[
{"t":0,"lo":1,"hi":1,"grp":"Low"},{"t":1.0,"lo":0.97,"hi":0.99,"grp":"Low"},{"t":2.0,"lo":0.915,"hi":0.96,"grp":"Low"},{"t":2.5,"lo":0.84,"hi":0.91,"grp":"Low"},{"t":3.0,"lo":0.8,"hi":0.875,"grp":"Low"},{"t":3.5,"lo":0.765,"hi":0.84,"grp":"Low"},{"t":4.0,"lo":0.72,"hi":0.8,"grp":"Low"},{"t":5.0,"lo":0.665,"hi":0.74,"grp":"Low"},{"t":6.0,"lo":0.63,"hi":0.705,"grp":"Low"},{"t":7.0,"lo":0.605,"hi":0.685,"grp":"Low"},{"t":8.0,"lo":0.59,"hi":0.665,"grp":"Low"},{"t":9.0,"lo":0.575,"hi":0.65,"grp":"Low"},{"t":10.0,"lo":0.56,"hi":0.635,"grp":"Low"},{"t":11.0,"lo":0.55,"hi":0.625,"grp":"Low"},{"t":12.0,"lo":0.54,"hi":0.615,"grp":"Low"},{"t":13.0,"lo":0.53,"hi":0.615,"grp":"Low"},{"t":13.8,"lo":0.507,"hi":0.657,"grp":"Low"},{"t":27.8,"lo":0.507,"hi":0.657,"grp":"Low"},
{"t":0,"lo":1,"hi":1,"grp":"High"},{"t":1.0,"lo":0.97,"hi":1,"grp":"High"},{"t":2.0,"lo":0.92,"hi":0.975,"grp":"High"},{"t":2.5,"lo":0.88,"hi":0.945,"grp":"High"},{"t":3.0,"lo":0.835,"hi":0.915,"grp":"High"},{"t":3.5,"lo":0.8,"hi":0.885,"grp":"High"},{"t":4.0,"lo":0.765,"hi":0.86,"grp":"High"},{"t":5.0,"lo":0.725,"hi":0.82,"grp":"High"},{"t":6.0,"lo":0.69,"hi":0.79,"grp":"High"},{"t":7.0,"lo":0.665,"hi":0.765,"grp":"High"},{"t":8.0,"lo":0.64,"hi":0.735,"grp":"High"},{"t":9.0,"lo":0.615,"hi":0.71,"grp":"High"},{"t":10.0,"lo":0.595,"hi":0.69,"grp":"High"},{"t":11.0,"lo":0.58,"hi":0.675,"grp":"High"},{"t":12.0,"lo":0.565,"hi":0.665,"grp":"High"},{"t":13.0,"lo":0.555,"hi":0.655,"grp":"High"},{"t":14.0,"lo":0.49,"hi":0.645,"grp":"High"},{"t":16.4,"lo":0.47,"hi":0.64,"grp":"High"},{"t":23.2,"lo":0.47,"hi":0.64,"grp":"High"}
],
"cG":[
{"t":0,"s":1,"Group":"Low"},{"t":0.5,"s":0.99,"Group":"Low"},{"t":1.0,"s":0.98,"Group":"Low"},{"t":1.6,"s":0.955,"Group":"Low"},{"t":2.15,"s":0.905,"Group":"Low"},{"t":2.5,"s":0.875,"Group":"Low"},{"t":2.85,"s":0.845,"Group":"Low"},{"t":3.26,"s":0.795,"Group":"Low"},{"t":3.8,"s":0.755,"Group":"Low"},{"t":4.2,"s":0.735,"Group":"Low"},{"t":4.64,"s":0.715,"Group":"Low"},{"t":5.0,"s":0.7,"Group":"Low"},{"t":5.47,"s":0.68,"Group":"Low"},{"t":6.0,"s":0.67,"Group":"Low"},{"t":6.57,"s":0.655,"Group":"Low"},{"t":7.2,"s":0.64,"Group":"Low"},{"t":7.96,"s":0.625,"Group":"Low"},{"t":8.8,"s":0.61,"Group":"Low"},{"t":9.9,"s":0.595,"Group":"Low"},{"t":11.0,"s":0.588,"Group":"Low"},{"t":12.4,"s":0.576,"Group":"Low"},{"t":13.8,"s":0.574,"Group":"Low"},{"t":27.8,"s":0.574,"Group":"Low"},
{"t":0,"s":1,"Group":"High"},{"t":0.6,"s":0.99,"Group":"High"},{"t":1.33,"s":0.965,"Group":"High"},{"t":1.9,"s":0.935,"Group":"High"},{"t":2.43,"s":0.905,"Group":"High"},{"t":3.12,"s":0.865,"Group":"High"},{"t":3.8,"s":0.815,"Group":"High"},{"t":4.64,"s":0.785,"Group":"High"},{"t":5.2,"s":0.765,"Group":"High"},{"t":5.75,"s":0.745,"Group":"High"},{"t":6.3,"s":0.73,"Group":"High"},{"t":6.85,"s":0.715,"Group":"High"},{"t":7.5,"s":0.695,"Group":"High"},{"t":8.23,"s":0.675,"Group":"High"},{"t":8.9,"s":0.66,"Group":"High"},{"t":9.6,"s":0.65,"Group":"High"},{"t":10.3,"s":0.635,"Group":"High"},{"t":11.0,"s":0.625,"Group":"High"},{"t":11.7,"s":0.615,"Group":"High"},{"t":12.4,"s":0.605,"Group":"High"},{"t":13.1,"s":0.6,"Group":"High"},{"t":13.8,"s":0.595,"Group":"High"},{"t":14.0,"s":0.566,"Group":"High"},{"t":16.4,"s":0.546,"Group":"High"},{"t":23.2,"s":0.546,"Group":"High"}
],
"xG":[
{"t":2.5,"s":0.875,"Group":"Low"},{"t":2.9,"s":0.845,"Group":"Low"},{"t":3.3,"s":0.795,"Group":"Low"},{"t":3.6,"s":0.775,"Group":"Low"},{"t":3.9,"s":0.755,"Group":"Low"},{"t":4.3,"s":0.735,"Group":"Low"},{"t":4.7,"s":0.715,"Group":"Low"},{"t":5.1,"s":0.7,"Group":"Low"},{"t":5.5,"s":0.68,"Group":"Low"},{"t":5.9,"s":0.68,"Group":"Low"},{"t":6.3,"s":0.67,"Group":"Low"},{"t":6.7,"s":0.655,"Group":"Low"},{"t":7.1,"s":0.655,"Group":"Low"},{"t":7.5,"s":0.64,"Group":"Low"},{"t":7.9,"s":0.64,"Group":"Low"},{"t":8.3,"s":0.625,"Group":"Low"},{"t":8.7,"s":0.625,"Group":"Low"},{"t":9.1,"s":0.61,"Group":"Low"},{"t":9.5,"s":0.61,"Group":"Low"},{"t":9.9,"s":0.595,"Group":"Low"},{"t":10.3,"s":0.595,"Group":"Low"},{"t":10.7,"s":0.595,"Group":"Low"},{"t":11.2,"s":0.588,"Group":"Low"},{"t":11.6,"s":0.588,"Group":"Low"},{"t":12.0,"s":0.588,"Group":"Low"},{"t":12.5,"s":0.576,"Group":"Low"},{"t":12.9,"s":0.576,"Group":"Low"},{"t":13.3,"s":0.576,"Group":"Low"},{"t":13.7,"s":0.576,"Group":"Low"},{"t":14.5,"s":0.574,"Group":"Low"},{"t":15.2,"s":0.574,"Group":"Low"},{"t":15.8,"s":0.574,"Group":"Low"},{"t":16.3,"s":0.574,"Group":"Low"},{"t":17.0,"s":0.574,"Group":"Low"},{"t":17.6,"s":0.574,"Group":"Low"},{"t":18.2,"s":0.574,"Group":"Low"},{"t":18.8,"s":0.574,"Group":"Low"},{"t":19.4,"s":0.574,"Group":"Low"},{"t":20.0,"s":0.574,"Group":"Low"},{"t":20.6,"s":0.574,"Group":"Low"},{"t":21.3,"s":0.574,"Group":"Low"},{"t":22.7,"s":0.574,"Group":"Low"},{"t":23.3,"s":0.574,"Group":"Low"},{"t":24.8,"s":0.574,"Group":"Low"},{"t":27.8,"s":0.574,"Group":"Low"},
{"t":0.1,"s":1,"Group":"High"},{"t":0.4,"s":1,"Group":"High"},{"t":1.0,"s":0.99,"Group":"High"},{"t":1.6,"s":0.965,"Group":"High"},{"t":2.0,"s":0.935,"Group":"High"},{"t":2.6,"s":0.905,"Group":"High"},{"t":3.0,"s":0.905,"Group":"High"},{"t":3.4,"s":0.865,"Group":"High"},{"t":3.9,"s":0.815,"Group":"High"},{"t":4.3,"s":0.815,"Group":"High"},{"t":4.8,"s":0.785,"Group":"High"},{"t":5.3,"s":0.765,"Group":"High"},{"t":5.8,"s":0.745,"Group":"High"},{"t":6.4,"s":0.73,"Group":"High"},{"t":6.9,"s":0.715,"Group":"High"},{"t":7.4,"s":0.715,"Group":"High"},{"t":7.9,"s":0.695,"Group":"High"},{"t":8.4,"s":0.675,"Group":"High"},{"t":8.9,"s":0.66,"Group":"High"},{"t":9.4,"s":0.66,"Group":"High"},{"t":9.9,"s":0.65,"Group":"High"},{"t":10.4,"s":0.635,"Group":"High"},{"t":10.9,"s":0.635,"Group":"High"},{"t":11.4,"s":0.625,"Group":"High"},{"t":11.9,"s":0.615,"Group":"High"},{"t":12.4,"s":0.605,"Group":"High"},{"t":12.8,"s":0.605,"Group":"High"},{"t":13.2,"s":0.6,"Group":"High"},{"t":13.6,"s":0.6,"Group":"High"},{"t":14.3,"s":0.566,"Group":"High"},{"t":14.8,"s":0.566,"Group":"High"},{"t":15.4,"s":0.566,"Group":"High"},{"t":15.9,"s":0.566,"Group":"High"},{"t":16.8,"s":0.546,"Group":"High"},{"t":17.3,"s":0.546,"Group":"High"},{"t":17.9,"s":0.546,"Group":"High"},{"t":18.4,"s":0.546,"Group":"High"},{"t":18.9,"s":0.546,"Group":"High"},{"t":19.5,"s":0.546,"Group":"High"},{"t":20.1,"s":0.546,"Group":"High"},{"t":20.7,"s":0.546,"Group":"High"},{"t":21.3,"s":0.546,"Group":"High"},{"t":21.8,"s":0.546,"Group":"High"},{"t":22.4,"s":0.546,"Group":"High"},{"t":23.0,"s":0.546,"Group":"High"}
]
},
"hconcat":[
{"vconcat":[
 {"hconcat":[
  {"data":{"values":[]},"mark":"point","width":1,"height":1,"view":{"fill":"white"}},
  {"width":489,"height":445,
   "view":{"stroke":"#000","strokeWidth":3.5},
   "layer":[
    {"data":{"name":"volcano"},"transform":[{"filter":"datum.g=='n'"}],"mark":{"type":"circle","opacity":1,"size":8},
     "encoding":{
      "x":{"field":"x","type":"quantitative","scale":{"domain":[-7.58,7.77],"nice":false,"zero":false},"axis":{"values":[-4,0,4],"title":"Log2FC","titleFontSize":23,"labelFontSize":20,"domain":false,"tickSize":5,"tickWidth":1.2,"labelPadding":2,"titlePadding":6,"labelFlush":false,"labelColor":"#222"}},
      "y":{"field":"y","type":"quantitative","scale":{"domain":[-5.26,121.7],"nice":false,"zero":false},"axis":{"values":[0,30,60,90,120],"title":"-Log10 adjusted pval","titleFontSize":24,"labelFontSize":20,"domain":false,"tickSize":5,"tickWidth":1.2,"labelPadding":2,"titlePadding":12,"labelColor":"#222"}},
      "color":{"field":"g","type":"nominal","scale":{"domain":["r","o","n"],"range":["#EE1F26","#F9A61A","#BEBEBE"]},"legend":{"title":null,"orient":"top-left","offset":5,"padding":4,"symbolType":"circle","symbolSize":200,"symbolOpacity":1,"labelFontSize":17,"labelFontWeight":"bold","rowPadding":4,"labelOffset":6,"labelExpr":"datum.value=='r'?'BETA minus of FOXA1 gained ILC peaks ( n= 120)':datum.value=='o'?'DEseq ILC versus IDC ( n=3028 )':'no significance'"}}
     }},
    {"data":{"name":"volcano"},"transform":[{"filter":"datum.g=='o'"}],"mark":{"type":"circle","opacity":1,"size":9},"encoding":{"x":{"field":"x","type":"quantitative"},"y":{"field":"y","type":"quantitative"},"color":{"field":"g","type":"nominal"}}},
    {"data":{"name":"volcano"},"transform":[{"filter":"datum.g=='r'"}],"mark":{"type":"circle","opacity":1,"size":50},"encoding":{"x":{"field":"x","type":"quantitative"},"y":{"field":"y","type":"quantitative"},"color":{"field":"g","type":"nominal"}}},
    {"data":{"values":[{}]},"mark":{"type":"text","text":"beta minus regulatory potential > 1","align":"left","baseline":"middle","fontSize":18,"fontWeight":"bold"},"encoding":{"x":{"datum":-6.92},"y":{"datum":95.6}}},
    {"data":{"values":[{}]},"mark":{"type":"text","text":"Ilog2FCI>1","align":"left","baseline":"middle","fontSize":18,"fontWeight":"bold"},"encoding":{"x":{"datum":-6.92},"y":{"datum":87.9}}},
    {"data":{"values":[{}]},"mark":{"type":"text","text":"Q <0.01","align":"left","baseline":"middle","fontSize":18,"fontWeight":"bold","fontStyle":"italic"},"encoding":{"x":{"datum":-2.52},"y":{"datum":87.9}}},
    {"data":{"values":[{}]},"mark":{"type":"text","text":"A","align":"left","baseline":"top","fontSize":26,"fontWeight":"bold"},"encoding":{"x":{"datum":-10.6},"y":{"datum":125.3}}},
    {"data":{"values":[{}]},"mark":{"type":"rule","opacity":0,"strokeWidth":0.01},"encoding":{"x":{"datum":-10.9388},"y":{"datum":126.84},"x2":{"datum":9.591},"y2":{"datum":-21.52}}}
   ]}
 ],"spacing":0,"resolve":{"scale":{"color":"independent","fill":"independent","stroke":"independent","size":"independent"},"legend":{"color":"independent","fill":"independent","stroke":"independent","size":"independent"}}},
 {"hconcat":[
  {"data":{"values":[]},"mark":"point","width":1,"height":1,"view":{"fill":"white"}},
  {"width":400,"height":216,
   "layer":[
    {"data":{"name":"hits"},"mark":{"type":"rule","color":"#222","opacity":0.75,"strokeWidth":1},
     "encoding":{
      "x":{"field":"pos","type":"quantitative","scale":{"domain":[-975,20260],"nice":false,"zero":false},"axis":{"title":"Metabric ILC vs. IDC","values":[0,5000,10000,15000,20000],"format":",d","labelFontSize":21,"titleFontSize":21,"tickSize":5,"labelPadding":5,"titlePadding":20,"labelFlush":false,"labelOverlap":false,"domainWidth":1.5}},
      "y":{"datum":-0.035,"type":"quantitative","scale":{"domain":[-0.053,0.564],"nice":false,"zero":false},"axis":{"title":"Enrichment score","values":[0,0.2,0.4],"format":".1f","labelFontSize":21,"titleFontSize":21,"tickSize":5,"labelPadding":2,"titlePadding":14,"domainWidth":1.5}},
      "y2":{"datum":0.035}}},
    {"data":{"values":[{}]},"mark":{"type":"rule","color":"#000","strokeWidth":1.3},"encoding":{"y":{"datum":0}}},
    {"data":{"values":[{}]},"mark":{"type":"rule","color":"#E0303A","strokeWidth":1.6,"strokeDash":[7,5]},"encoding":{"y":{"datum":0.555}}},
    {"data":{"values":[{}]},"mark":{"type":"rule","color":"#E0303A","strokeWidth":1.6,"strokeDash":[7,5]},"encoding":{"y":{"datum":-0.022}}},
    {"data":{"name":"es"},"mark":{"type":"line","color":"#6DBE45","strokeWidth":2},"encoding":{"x":{"field":"rank","type":"quantitative"},"y":{"field":"es","type":"quantitative"}}},
    {"data":{"values":[{}]},"mark":{"type":"text","text":"FOXA1_ILC_120","align":"center","baseline":"alphabetic","fontSize":21},"encoding":{"x":{"datum":9642},"y":{"datum":0.5883}}},
    {"data":{"values":[{}]},"mark":{"type":"text","text":"NES=2.28","align":"left","baseline":"middle","fontSize":22,"fontWeight":"bold"},"encoding":{"x":{"datum":12900},"y":{"datum":0.459}}},
    {"data":{"values":[{}]},"mark":{"type":"text","text":"P","align":"left","baseline":"middle","fontSize":22,"fontWeight":"bold","fontStyle":"italic"},"encoding":{"x":{"datum":12900},"y":{"datum":0.375}}},
    {"data":{"values":[{}]},"mark":{"type":"text","text":"=3.8e-10","align":"left","baseline":"middle","fontSize":22,"fontWeight":"bold"},"encoding":{"x":{"datum":13680},"y":{"datum":0.375}}},
    {"data":{"values":[{}]},"mark":{"type":"text","text":"C","align":"left","baseline":"top","fontSize":26,"fontWeight":"bold"},"encoding":{"x":{"datum":-6543},"y":{"datum":0.665}}},
    {"data":{"values":[{}]},"mark":{"type":"rule","opacity":0,"strokeWidth":0.01},"encoding":{"x":{"datum":-9893.6},"y":{"datum":0.7582},"x2":{"datum":24825},"y2":{"datum":-0.3272}}}
   ]}
 ],"spacing":0,"resolve":{"scale":{"color":"independent","fill":"independent","stroke":"independent","size":"independent"},"legend":{"color":"independent","fill":"independent","stroke":"independent","size":"independent"}}},
 {"hconcat":[
  {"data":{"values":[]},"mark":"point","width":1,"height":1,"view":{"fill":"white"}},
  {"width":480,"height":369,
   "layer":[
    {"data":{"name":"bD"},"transform":[{"filter":"datum.grp=='Low'"}],"mark":{"type":"area","interpolate":"step-after","opacity":0.35},"encoding":{"x":{"field":"t","type":"quantitative","scale":{"domain":[-1.25,26.2],"nice":false,"zero":false},"axis":{"title":"YEARS","values":[0,5,10,15,20,25],"labelFontSize":22,"titleFontSize":22,"tickSize":5,"labelPadding":3,"titlePadding":8,"labelOverlap":false,"labelFlush":false,"domainWidth":1.5,"tickWidth":1.2}},"y":{"field":"lo","type":"quantitative","scale":{"domain":[-0.05,1.05],"nice":false,"zero":false},"axis":{"title":["Distant Relapse-free","survival"],"values":[0,0.25,0.5,0.75,1],"format":".2f","labelFontSize":22,"titleFontSize":22,"tickSize":5,"labelPadding":3,"titlePadding":12,"titleLineHeight":27,"labelOverlap":false,"domainWidth":1.5,"tickWidth":1.2}},"y2":{"field":"hi"},"fill":{"field":"grp","type":"nominal","scale":{"domain":["High","Low"],"range":["#EE7B22","#2D55A8"]},"legend":{"title":"FOXA1_ILC_120_AveMZ","values":["Low","High"],"orient":"none","legendX":21.6,"legendY":244.4,"symbolType":"square","symbolSize":729,"symbolOpacity":0.35,"symbolStrokeWidth":0,"labelFontSize":22,"titleFontSize":22,"titlePadding":15,"rowPadding":4,"labelOffset":16,"labelOpacity":0,"titleOpacity":0,"padding":0}}}},
    {"data":{"name":"cD"},"transform":[{"filter":"datum.Group=='Low'"}],"mark":{"type":"line","interpolate":"step-after","strokeWidth":2.5},"encoding":{"x":{"field":"t","type":"quantitative"},"y":{"field":"s","type":"quantitative"},"stroke":{"field":"Group","type":"nominal","scale":{"domain":["Low","High"],"range":["#2D55A8","#EE7B22"]},"legend":{"title":"FOXA1_ILC_120_AveMZ","orient":"none","legendX":21.6,"legendY":244.4,"symbolType":"M-1,0H1M0,-0.4V0.4","symbolSize":729,"symbolStrokeWidth":2.5,"symbolFillColor":"transparent","labelFontSize":22,"titleFontSize":22,"titlePadding":15,"rowPadding":4,"labelOffset":16,"padding":0}}}},
    {"data":{"name":"xD"},"transform":[{"filter":"datum.Group=='Low'"}],"mark":{"type":"point","shape":"M0,-1V1M-1,0H1","size":100,"filled":false,"strokeWidth":1.5,"opacity":1},"encoding":{"x":{"field":"t","type":"quantitative"},"y":{"field":"s","type":"quantitative"},"stroke":{"field":"Group","type":"nominal"}}},
    {"data":{"name":"bD"},"transform":[{"filter":"datum.grp=='High'"}],"mark":{"type":"area","interpolate":"step-after","opacity":0.35},"encoding":{"x":{"field":"t","type":"quantitative"},"y":{"field":"lo","type":"quantitative"},"y2":{"field":"hi"},"fill":{"field":"grp","type":"nominal"}}},
    {"data":{"name":"cD"},"transform":[{"filter":"datum.Group=='High'"}],"mark":{"type":"line","interpolate":"step-after","strokeWidth":2.5},"encoding":{"x":{"field":"t","type":"quantitative"},"y":{"field":"s","type":"quantitative"},"stroke":{"field":"Group","type":"nominal"}}},
    {"data":{"name":"xD"},"transform":[{"filter":"datum.Group=='High'"}],"mark":{"type":"point","shape":"M0,-1V1M-1,0H1","size":100,"filled":false,"strokeWidth":1.5,"opacity":1},"encoding":{"x":{"field":"t","type":"quantitative"},"y":{"field":"s","type":"quantitative"},"stroke":{"field":"Group","type":"nominal"}}},
    {"data":{"values":[{}]},"mark":{"type":"text","text":"METABRIC ILC Luminal A ( N=65)","align":"center","baseline":"alphabetic","fontSize":22,"fontWeight":"bold"},"encoding":{"x":{"datum":12.933},"y":{"datum":1.056}}},
    {"data":{"values":[{}]},"mark":{"type":"text","text":"HR=3.00","align":"left","baseline":"middle","fontSize":22,"fontWeight":"bold"},"encoding":{"x":{"datum":-0.05},"y":{"datum":0.515}}},
    {"data":{"values":[{}]},"mark":{"type":"text","text":"P=0.039","align":"left","baseline":"middle","fontSize":22,"fontWeight":"bold"},"encoding":{"x":{"datum":-0.05},"y":{"datum":0.42}}},
    {"data":{"values":[{}]},"mark":{"type":"text","text":"D","align":"left","baseline":"top","fontSize":26,"fontWeight":"bold"},"encoding":{"x":{"datum":-9.37},"y":{"datum":1.07}}},
    {"data":{"values":[{}]},"mark":{"type":"rule","opacity":0,"strokeWidth":0.01},"encoding":{"x":{"datum":-9.9083},"y":{"datum":1.2813},"x2":{"datum":27.493},"y2":{"datum":-0.25392}}}
   ]}
 ],"spacing":0,"resolve":{"scale":{"color":"independent","fill":"independent","stroke":"independent","size":"independent"},"legend":{"color":"independent","fill":"independent","stroke":"independent","size":"independent"}}},
 {"hconcat":[
  {"data":{"values":[]},"mark":"point","width":1,"height":1,"view":{"fill":"white"}},
  {"width":480,"height":368,
   "layer":[
    {"data":{"name":"bF"},"transform":[{"filter":"datum.grp=='Low'"}],"mark":{"type":"area","interpolate":"step-after","opacity":0.35},"encoding":{"x":{"field":"t","type":"quantitative","scale":{"domain":[-1.5,31.45],"nice":false,"zero":false},"axis":{"title":"Years","values":[0,5,10,15,20,25,30],"labelFontSize":25,"titleFontSize":27,"tickSize":5,"labelPadding":1,"titlePadding":1,"labelOverlap":false,"labelFlush":false,"domainWidth":1.5,"tickWidth":1.2}},"y":{"field":"lo","type":"quantitative","scale":{"domain":[-0.05,1.05],"nice":false,"zero":false},"axis":{"title":["Distant Relapse-free","survival"],"values":[0,0.25,0.5,0.75,1],"format":".2f","labelFontSize":23,"titleFontSize":22,"tickSize":5,"labelPadding":3,"titlePadding":12,"titleLineHeight":27,"labelOverlap":false,"domainWidth":1.5,"tickWidth":1.2}},"y2":{"field":"hi"},"fill":{"field":"grp","type":"nominal","scale":{"domain":["High","Low"],"range":["#EE7B22","#2D55A8"]},"legend":{"title":"FOXA1_ILC_120_AveMZ","values":["Low","High"],"orient":"none","legendX":24.6,"legendY":242.7,"symbolType":"square","symbolSize":729,"symbolOpacity":0.35,"symbolStrokeWidth":0,"labelFontSize":22,"titleFontSize":22,"titlePadding":15,"rowPadding":4,"labelOffset":16,"labelOpacity":0,"titleOpacity":0,"padding":0}}}},
    {"data":{"name":"cF"},"transform":[{"filter":"datum.Group=='Low'"}],"mark":{"type":"line","interpolate":"step-after","strokeWidth":2.5},"encoding":{"x":{"field":"t","type":"quantitative"},"y":{"field":"s","type":"quantitative"},"stroke":{"field":"Group","type":"nominal","scale":{"domain":["Low","High"],"range":["#2D55A8","#EE7B22"]},"legend":{"title":"FOXA1_ILC_120_AveMZ","orient":"none","legendX":24.6,"legendY":242.7,"symbolType":"M-1,0H1M0,-0.4V0.4","symbolSize":729,"symbolStrokeWidth":2.5,"symbolFillColor":"transparent","labelFontSize":22,"titleFontSize":22,"titlePadding":15,"rowPadding":4,"labelOffset":16,"padding":0}}}},
    {"data":{"name":"xF"},"transform":[{"filter":"datum.Group=='Low'"}],"mark":{"type":"point","shape":"M0,-1V1M-1,0H1","size":100,"filled":false,"strokeWidth":1.5,"opacity":1},"encoding":{"x":{"field":"t","type":"quantitative"},"y":{"field":"s","type":"quantitative"},"stroke":{"field":"Group","type":"nominal"}}},
    {"data":{"name":"bF"},"transform":[{"filter":"datum.grp=='High'"}],"mark":{"type":"area","interpolate":"step-after","opacity":0.35},"encoding":{"x":{"field":"t","type":"quantitative"},"y":{"field":"lo","type":"quantitative"},"y2":{"field":"hi"},"fill":{"field":"grp","type":"nominal"}}},
    {"data":{"name":"cF"},"transform":[{"filter":"datum.Group=='High'"}],"mark":{"type":"line","interpolate":"step-after","strokeWidth":2.5},"encoding":{"x":{"field":"t","type":"quantitative"},"y":{"field":"s","type":"quantitative"},"stroke":{"field":"Group","type":"nominal"}}},
    {"data":{"name":"xF"},"transform":[{"filter":"datum.Group=='High'"}],"mark":{"type":"point","shape":"M0,-1V1M-1,0H1","size":100,"filled":false,"strokeWidth":1.5,"opacity":1},"encoding":{"x":{"field":"t","type":"quantitative"},"y":{"field":"s","type":"quantitative"},"stroke":{"field":"Group","type":"nominal"}}},
    {"data":{"values":[{}]},"mark":{"type":"text","text":"METABRIC IDC Luminal A ( N=532)","align":"center","baseline":"alphabetic","fontSize":22,"fontWeight":"bold"},"encoding":{"x":{"datum":16.348},"y":{"datum":1.0673}}},
    {"data":{"values":[{}]},"mark":{"type":"text","text":"HR=0.7","align":"left","baseline":"middle","fontSize":22,"fontWeight":"bold"},"encoding":{"x":{"datum":0.0},"y":{"datum":0.49}}},
    {"data":{"values":[{}]},"mark":{"type":"text","text":"P=0.051","align":"left","baseline":"middle","fontSize":22,"fontWeight":"bold"},"encoding":{"x":{"datum":0.12},"y":{"datum":0.405}}},
    {"data":{"values":[{}]},"mark":{"type":"text","text":"F","align":"left","baseline":"top","fontSize":26,"fontWeight":"bold"},"encoding":{"x":{"datum":-11.25},"y":{"datum":1.09}}},
    {"data":{"values":[{}]},"mark":{"type":"rule","opacity":0,"strokeWidth":0.01},"encoding":{"x":{"datum":-11.2752},"y":{"datum":1.2691},"x2":{"datum":33.618},"y2":{"datum":-0.2404}}}
   ]}
 ],"spacing":0,"resolve":{"scale":{"color":"independent","fill":"independent","stroke":"independent","size":"independent"},"legend":{"color":"independent","fill":"independent","stroke":"independent","size":"independent"}}}
 ],"spacing":0,"resolve":{"scale":{"color":"independent","fill":"independent","stroke":"independent","size":"independent"},"legend":{"color":"independent","fill":"independent","stroke":"independent","size":"independent"}}},
{"vconcat":[
 {"hconcat":[
  {"data":{"values":[]},"mark":"point","width":1,"height":1,"view":{"fill":"white"}},
  {"vconcat":[
    {"data":{"values":[]},"mark":"point","width":1,"height":31},
    {"width":253,"height":21,
     "view":{"fill":"#D9D9D9","stroke":"#444","strokeWidth":1},
     "data":{"values":[{}]},
     "layer":[
      {"mark":{"type":"text","text":"activated","fontSize":11,"color":"#333","baseline":"middle"},"encoding":{"x":{"datum":2.0725,"type":"quantitative","scale":{"domain":[1.655,2.49],"nice":false,"zero":false},"axis":null},"y":{"datum":0.5,"type":"quantitative","scale":{"domain":[0,1],"nice":false,"zero":false},"axis":null}}},
      {"mark":{"type":"text","text":"NES","align":"center","baseline":"alphabetic","fontSize":22,"fontWeight":"bold"},"encoding":{"x":{"datum":2.0725,"type":"quantitative"},"y":{"datum":1.557,"type":"quantitative"}}},
      {"mark":{"type":"text","text":"B","align":"left","baseline":"top","fontSize":26,"fontWeight":"bold"},"encoding":{"x":{"datum":0.72,"type":"quantitative"},"y":{"datum":2.62,"type":"quantitative"}}},
      {"mark":{"type":"rule","opacity":0,"strokeWidth":0.01},"encoding":{"x":{"datum":0.6517,"type":"quantitative"},"y":{"datum":3.33333,"type":"quantitative"},"x2":{"datum":2.82002},"y2":{"datum":-21.4286}}}
     ]},
    {"width":253,"height":362,
     "view":{"stroke":"#666","strokeWidth":1},
     "data":{"name":"nes"},
     "mark":{"type":"circle","opacity":1},
     "encoding":{
      "x":{"field":"NES","type":"quantitative","scale":{"domain":[1.655,2.49],"nice":false,"zero":false},"axis":{"title":null,"values":[1.7,1.8,1.9,2.0,2.1,2.2,2.3,2.4],"labelExpr":"(abs(datum.value-1.7)<0.01||abs(datum.value-1.9)<0.01||abs(datum.value-2.1)<0.01||abs(datum.value-2.3)<0.01)?format(datum.value,'.1f'):''","grid":true,"gridColor":"#EBEBEB","gridWidth":1,"domain":false,"tickOpacity":{"condition":{"test":"abs(datum.value-1.7)<0.01||abs(datum.value-1.9)<0.01||abs(datum.value-2.1)<0.01||abs(datum.value-2.3)<0.01","value":1},"value":0},"tickColor":"#333","tickSize":4,"labelFontSize":13,"labelColor":"#333","labelFlush":false,"labelOverlap":false}},
      "y":{"field":"term","type":"nominal","sort":["Estrogen response early","Estrogen response late","Notch Signaling","TGF-beta signaling","Hypoxia","UV response down","TNFA signaling via NFKB"],"scale":{"type":"point","padding":0.5},"axis":{"title":null,"grid":true,"gridColor":"#EBEBEB","domain":false,"labelFontSize":19,"labelFontWeight":"bold","tickSize":3,"tickColor":"#333","labelPadding":4,"labelLimit":400}},
      "color":{"field":"padjNeg","type":"quantitative","scale":{"domain":[-0.1307,-0.1,-0.075,-0.05,-0.0253],"range":["#3A53A4","#833C9B","#C5228A","#E42540","#EF2A24"]},"legend":{"title":"p.adjust","orient":"none","legendX":275,"legendY":27,"values":[-0.125,-0.1,-0.075,-0.05],"labelExpr":"format(-datum.value,'.3f')","gradientLength":104,"gradientThickness":22,"labelFontSize":12,"labelColor":"#333","titleFontSize":13,"direction":"vertical","titlePadding":6,"labelOverlap":false}},
      "size":{"field":"Count","type":"quantitative","scale":{"domain":[5,10,15,20,25,30],"range":[82,219,327,380,426,471]},"legend":{"title":"Count","orient":"none","legendX":275,"legendY":177,"values":[5,10,15,20,25,30],"symbolFillColor":"#000","symbolStrokeColor":"#000","symbolType":"circle","labelFontSize":12,"titleFontSize":13,"rowPadding":2,"labelColor":"#333"}}
     }}
   ],"spacing":0,"bounds":"flush","resolve":{"scale":{"color":"independent","fill":"independent","stroke":"independent","size":"independent"},"legend":{"color":"independent","fill":"independent","stroke":"independent","size":"independent"}}}
 ],"spacing":0,"resolve":{"scale":{"color":"independent","fill":"independent","stroke":"independent","size":"independent"},"legend":{"color":"independent","fill":"independent","stroke":"independent","size":"independent"}}},
 {"hconcat":[
  {"data":{"values":[]},"mark":"point","width":1,"height":1,"view":{"fill":"white"}},
  {"width":480,"height":369,
   "layer":[
    {"data":{"name":"bE"},"transform":[{"filter":"datum.grp=='Low'"}],"mark":{"type":"area","interpolate":"step-after","opacity":0.35},"encoding":{"x":{"field":"t","type":"quantitative","scale":{"domain":[-1.27,26.1],"nice":false,"zero":false},"axis":{"title":"YEARS","values":[0,5,10,15,20,25],"labelFontSize":22,"titleFontSize":22,"tickSize":5,"labelPadding":3,"titlePadding":8,"labelOverlap":false,"labelFlush":false,"domainWidth":1.5,"tickWidth":1.2}},"y":{"field":"lo","type":"quantitative","scale":{"domain":[-0.05,1.05],"nice":false,"zero":false},"axis":{"title":["Distant Relapse-free","survival"],"values":[0,0.25,0.5,0.75,1],"format":".2f","labelFontSize":22,"titleFontSize":22,"tickSize":5,"labelPadding":3,"titlePadding":12,"titleLineHeight":27,"labelOverlap":false,"domainWidth":1.5,"tickWidth":1.2}},"y2":{"field":"hi"},"fill":{"field":"grp","type":"nominal","scale":{"domain":["High","Low"],"range":["#EE7B22","#2D55A8"]},"legend":{"title":"FOXA1_ILC_120_AveMZ","values":["Low","High"],"orient":"none","legendX":187.6,"legendY":26.5,"symbolType":"square","symbolSize":729,"symbolOpacity":0.35,"symbolStrokeWidth":0,"labelFontSize":22,"titleFontSize":22,"titlePadding":15,"rowPadding":4,"labelOffset":16,"labelOpacity":0,"titleOpacity":0,"padding":0}}}},
    {"data":{"name":"cE"},"transform":[{"filter":"datum.Group=='Low'"}],"mark":{"type":"line","interpolate":"step-after","strokeWidth":2.5},"encoding":{"x":{"field":"t","type":"quantitative"},"y":{"field":"s","type":"quantitative"},"stroke":{"field":"Group","type":"nominal","scale":{"domain":["Low","High"],"range":["#2D55A8","#EE7B22"]},"legend":{"title":"FOXA1_ILC_120_AveMZ","orient":"none","legendX":187.6,"legendY":26.5,"symbolType":"M-1,0H1M0,-0.4V0.4","symbolSize":729,"symbolStrokeWidth":2.5,"symbolFillColor":"transparent","labelFontSize":22,"titleFontSize":22,"titlePadding":15,"rowPadding":4,"labelOffset":16,"padding":0}}}},
    {"data":{"name":"xE"},"transform":[{"filter":"datum.Group=='Low'"}],"mark":{"type":"point","shape":"M0,-1V1M-1,0H1","size":100,"filled":false,"strokeWidth":1.5,"opacity":1},"encoding":{"x":{"field":"t","type":"quantitative"},"y":{"field":"s","type":"quantitative"},"stroke":{"field":"Group","type":"nominal"}}},
    {"data":{"name":"bE"},"transform":[{"filter":"datum.grp=='High'"}],"mark":{"type":"area","interpolate":"step-after","opacity":0.35},"encoding":{"x":{"field":"t","type":"quantitative"},"y":{"field":"lo","type":"quantitative"},"y2":{"field":"hi"},"fill":{"field":"grp","type":"nominal"}}},
    {"data":{"name":"cE"},"transform":[{"filter":"datum.Group=='High'"}],"mark":{"type":"line","interpolate":"step-after","strokeWidth":2.5},"encoding":{"x":{"field":"t","type":"quantitative"},"y":{"field":"s","type":"quantitative"},"stroke":{"field":"Group","type":"nominal"}}},
    {"data":{"name":"xE"},"transform":[{"filter":"datum.Group=='High'"}],"mark":{"type":"point","shape":"M0,-1V1M-1,0H1","size":100,"filled":false,"strokeWidth":1.5,"opacity":1},"encoding":{"x":{"field":"t","type":"quantitative"},"y":{"field":"s","type":"quantitative"},"stroke":{"field":"Group","type":"nominal"}}},
    {"data":{"values":[{}]},"mark":{"type":"text","text":"METABRIC ILC Luminal B ( N=29)","align":"center","baseline":"alphabetic","fontSize":22,"fontWeight":"bold"},"encoding":{"x":{"datum":13.442},"y":{"datum":1.0381}}},
    {"data":{"values":[{}]},"mark":{"type":"text","text":"HR=0.62","align":"left","baseline":"middle","fontSize":22,"fontWeight":"bold"},"encoding":{"x":{"datum":-0.85},"y":{"datum":0.195}}},
    {"data":{"values":[{}]},"mark":{"type":"text","text":"P=0.33","align":"left","baseline":"middle","fontSize":22,"fontWeight":"bold"},"encoding":{"x":{"datum":-0.28},"y":{"datum":0.113}}},
    {"data":{"values":[{}]},"mark":{"type":"text","text":"E","align":"left","baseline":"top","fontSize":26,"fontWeight":"bold"},"encoding":{"x":{"datum":-9.57},"y":{"datum":1.046}}},
    {"data":{"values":[{}]},"mark":{"type":"rule","opacity":0,"strokeWidth":0.01},"encoding":{"x":{"datum":-11.2717},"y":{"datum":2.37807},"x2":{"datum":26.1919},"y2":{"datum":-0.28999}}}
   ]}
 ],"spacing":0,"resolve":{"scale":{"color":"independent","fill":"independent","stroke":"independent","size":"independent"},"legend":{"color":"independent","fill":"independent","stroke":"independent","size":"independent"}}},
 {"hconcat":[
  {"data":{"values":[]},"mark":"point","width":1,"height":1,"view":{"fill":"white"}},
  {"width":481,"height":368,
   "layer":[
    {"data":{"name":"bG"},"transform":[{"filter":"datum.grp=='Low'"}],"mark":{"type":"area","interpolate":"step-after","opacity":0.35},"encoding":{"x":{"field":"t","type":"quantitative","scale":{"domain":[-1.52,31.4],"nice":false,"zero":false},"axis":{"title":"Years","values":[0,5,10,15,20,25,30],"labelFontSize":25,"titleFontSize":27,"tickSize":5,"labelPadding":1,"titlePadding":1,"labelOverlap":false,"labelFlush":false,"domainWidth":1.5,"tickWidth":1.2}},"y":{"field":"lo","type":"quantitative","scale":{"domain":[-0.05,1.05],"nice":false,"zero":false},"axis":{"title":["Distant Relapse-free","survival"],"values":[0,0.25,0.5,0.75,1],"format":".2f","labelFontSize":23,"titleFontSize":22,"tickSize":5,"labelPadding":3,"titlePadding":12,"titleLineHeight":27,"labelOverlap":false,"domainWidth":1.5,"tickWidth":1.2}},"y2":{"field":"hi"},"fill":{"field":"grp","type":"nominal","scale":{"domain":["High","Low"],"range":["#EE7B22","#2D55A8"]},"legend":{"title":"FOXA1_ILC_120_AveMZ","values":["Low","High"],"orient":"none","legendX":25,"legendY":242.7,"symbolType":"square","symbolSize":729,"symbolOpacity":0.35,"symbolStrokeWidth":0,"labelFontSize":22,"titleFontSize":22,"titlePadding":15,"rowPadding":4,"labelOffset":16,"labelOpacity":0,"titleOpacity":0,"padding":0}}}},
    {"data":{"name":"cG"},"transform":[{"filter":"datum.Group=='Low'"}],"mark":{"type":"line","interpolate":"step-after","strokeWidth":2.5},"encoding":{"x":{"field":"t","type":"quantitative"},"y":{"field":"s","type":"quantitative"},"stroke":{"field":"Group","type":"nominal","scale":{"domain":["Low","High"],"range":["#2D55A8","#EE7B22"]},"legend":{"title":"FOXA1_ILC_120_AveMZ","orient":"none","legendX":25,"legendY":242.7,"symbolType":"M-1,0H1M0,-0.4V0.4","symbolSize":729,"symbolStrokeWidth":2.5,"symbolFillColor":"transparent","labelFontSize":22,"titleFontSize":22,"titlePadding":15,"rowPadding":4,"labelOffset":16,"padding":0}}}},
    {"data":{"name":"xG"},"transform":[{"filter":"datum.Group=='Low'"}],"mark":{"type":"point","shape":"M0,-1V1M-1,0H1","size":100,"filled":false,"strokeWidth":1.5,"opacity":1},"encoding":{"x":{"field":"t","type":"quantitative"},"y":{"field":"s","type":"quantitative"},"stroke":{"field":"Group","type":"nominal"}}},
    {"data":{"name":"bG"},"transform":[{"filter":"datum.grp=='High'"}],"mark":{"type":"area","interpolate":"step-after","opacity":0.35},"encoding":{"x":{"field":"t","type":"quantitative"},"y":{"field":"lo","type":"quantitative"},"y2":{"field":"hi"},"fill":{"field":"grp","type":"nominal"}}},
    {"data":{"name":"cG"},"transform":[{"filter":"datum.Group=='High'"}],"mark":{"type":"line","interpolate":"step-after","strokeWidth":2.5},"encoding":{"x":{"field":"t","type":"quantitative"},"y":{"field":"s","type":"quantitative"},"stroke":{"field":"Group","type":"nominal"}}},
    {"data":{"name":"xG"},"transform":[{"filter":"datum.Group=='High'"}],"mark":{"type":"point","shape":"M0,-1V1M-1,0H1","size":100,"filled":false,"strokeWidth":1.5,"opacity":1},"encoding":{"x":{"field":"t","type":"quantitative"},"y":{"field":"s","type":"quantitative"},"stroke":{"field":"Group","type":"nominal"}}},
    {"data":{"values":[{}]},"mark":{"type":"text","text":"METABRIC IDC Luminal B ( N=399)","align":"center","baseline":"alphabetic","fontSize":22,"fontWeight":"bold"},"encoding":{"x":{"datum":14.94},"y":{"datum":1.0673}}},
    {"data":{"values":[{}]},"mark":{"type":"text","text":"HR=0.91","align":"left","baseline":"middle","fontSize":22,"fontWeight":"bold"},"encoding":{"x":{"datum":-0.52},"y":{"datum":0.532}}},
    {"data":{"values":[{}]},"mark":{"type":"text","text":"P=0.56","align":"left","baseline":"middle","fontSize":22,"fontWeight":"bold"},"encoding":{"x":{"datum":-0.19},"y":{"datum":0.451}}},
    {"data":{"values":[{}]},"mark":{"type":"text","text":"G","align":"left","baseline":"top","fontSize":26,"fontWeight":"bold"},"encoding":{"x":{"datum":-11.16},"y":{"datum":1.09}}},
    {"data":{"values":[{}]},"mark":{"type":"rule","opacity":0,"strokeWidth":0.01},"encoding":{"x":{"datum":-12.6075},"y":{"datum":1.2691},"x2":{"datum":32.358},"y2":{"datum":-0.2404}}}
   ]}
 ],"spacing":0,"resolve":{"scale":{"color":"independent","fill":"independent","stroke":"independent","size":"independent"},"legend":{"color":"independent","fill":"independent","stroke":"independent","size":"independent"}}}
 ],"spacing":0,"resolve":{"scale":{"color":"independent","fill":"independent","stroke":"independent","size":"independent"},"legend":{"color":"independent","fill":"independent","stroke":"independent","size":"independent"}}}
],
"spacing":0,
"resolve":{"scale":{"color":"independent","fill":"independent","stroke":"independent","size":"independent"},"legend":{"color":"independent","fill":"independent","stroke":"independent","size":"independent"}}
}
